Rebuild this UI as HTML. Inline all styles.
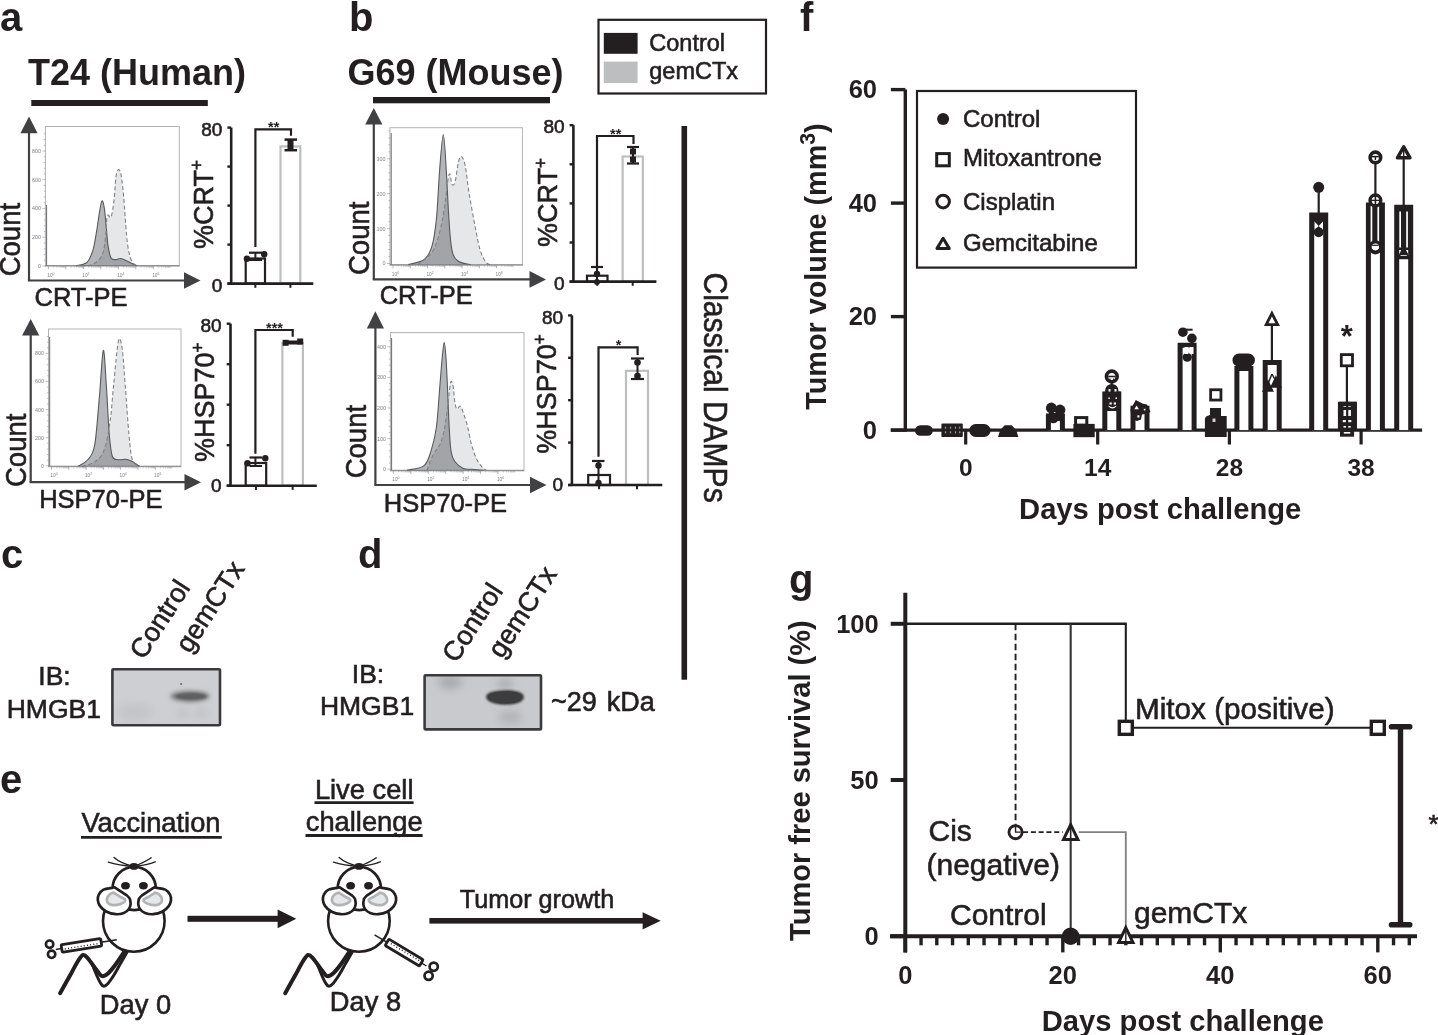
<!DOCTYPE html>
<html><head><meta charset="utf-8"><title>Figure</title>
<style>
html,body{margin:0;padding:0;background:#fff;}
body{width:1438px;height:1035px;overflow:hidden;}
svg{display:block;}
text{font-family:"Liberation Sans",Arial,Helvetica,sans-serif;}
</style></head>
<body>
<svg width="1438" height="1035" viewBox="0 0 1438 1035">
<rect x="0" y="0" width="1438" height="1035" fill="#fff"/>
<text x="0" y="31" font-size="40" font-weight="bold" fill="#231f20">a</text>
<text x="349" y="31" font-size="40" font-weight="bold" fill="#231f20">b</text>
<text x="28" y="85.2" font-size="36" font-weight="bold" fill="#231f20">T24 (Human)</text>
<rect x="31.3" y="100" width="176.5" height="6" fill="#231f20"/>
<text x="347.5" y="84.5" font-size="36" font-weight="bold" fill="#231f20">G69 (Mouse)</text>
<rect x="373" y="97" width="177" height="6.3" fill="#231f20"/>
<rect x="598.5" y="19.8" width="167.5" height="73.7" fill="none" stroke="#231f20" stroke-width="2.2"/>
<rect x="603.8" y="32.9" width="33.8" height="20.9" fill="#231f20"/>
<rect x="603.8" y="61.6" width="33.8" height="21.4" fill="#bcbec0"/>
<text x="649.3" y="51" font-size="23.5" stroke="#231f20" stroke-width="0.6" fill="#231f20">Control</text>
<text x="649.3" y="78.9" font-size="23.5" stroke="#231f20" stroke-width="0.6" fill="#231f20">gemCTx</text>
<rect x="45.4" y="126.5" width="133.9" height="139.7" fill="#fff" stroke="#b1b3b6" stroke-width="1"/>
<path d="M81.2,265.8 C83.1,265.5 89.2,266.1 92.8,264.3 C96.3,262.4 100.2,259.7 102.4,254.6 C104.6,249.4 105.2,239.5 105.9,233.3 C106.6,227.2 106.5,220.9 106.9,217.9 C107.2,214.8 107.5,215.1 108.2,215.0 C108.9,214.8 110.1,219.3 111.1,216.9 C112.1,214.5 113.2,207.1 114.0,200.5 C114.8,193.9 115.3,182.4 115.9,177.3 C116.6,172.2 117.1,170.6 117.9,170.0 C118.7,169.3 119.8,169.0 120.8,173.4 C121.7,177.9 122.7,186.3 123.7,196.6 C124.6,206.9 125.6,225.6 126.6,235.3 C127.5,244.9 128.3,249.9 129.5,254.6 C130.6,259.3 132.0,261.4 133.3,263.3 C134.6,265.2 136.6,265.4 137.2,265.8 L137.2,265.7 L81.2,265.7 Z" fill="#e6e7e8"/>
<path d="M76.3,265.8 C78.1,265.2 84.2,264.8 87.0,262.3 C89.7,259.8 91.1,255.9 92.8,250.7 C94.4,245.6 95.5,237.8 96.6,231.4 C97.7,225.0 98.6,217.2 99.5,212.1 C100.4,207.0 101.2,201.5 102.0,200.9 C102.8,200.2 103.6,203.8 104.3,208.2 C105.1,212.7 105.6,221.1 106.3,227.5 C106.9,234.0 107.4,241.8 108.2,246.9 C109.0,251.9 109.8,255.9 111.1,258.1 C112.4,260.2 114.5,259.5 115.9,259.6 C117.4,259.7 118.5,258.5 119.8,258.5 C121.1,258.4 121.7,258.6 123.7,259.4 C125.6,260.2 129.1,262.2 131.4,263.3 C133.7,264.3 136.2,265.4 137.2,265.8 L137.2,265.7 L76.3,265.7 Z" fill="#b4b5b8" style="mix-blend-mode:multiply"/>
<path d="M76.3,265.8 C78.1,265.2 84.2,264.8 87.0,262.3 C89.7,259.8 91.1,255.9 92.8,250.7 C94.4,245.6 95.5,237.8 96.6,231.4 C97.7,225.0 98.6,217.2 99.5,212.1 C100.4,207.0 101.2,201.5 102.0,200.9 C102.8,200.2 103.6,203.8 104.3,208.2 C105.1,212.7 105.6,221.1 106.3,227.5 C106.9,234.0 107.4,241.8 108.2,246.9 C109.0,251.9 109.8,255.9 111.1,258.1 C112.4,260.2 114.5,259.5 115.9,259.6 C117.4,259.7 118.5,258.5 119.8,258.5 C121.1,258.4 121.7,258.6 123.7,259.4 C125.6,260.2 129.1,262.2 131.4,263.3 C133.7,264.3 136.2,265.4 137.2,265.8" fill="none" stroke="#58595b" stroke-width="1.1"/>
<path d="M81.2,265.8 C83.1,265.5 89.2,266.1 92.8,264.3 C96.3,262.4 100.2,259.7 102.4,254.6 C104.6,249.4 105.2,239.5 105.9,233.3 C106.6,227.2 106.5,220.9 106.9,217.9 C107.2,214.8 107.5,215.1 108.2,215.0 C108.9,214.8 110.1,219.3 111.1,216.9 C112.1,214.5 113.2,207.1 114.0,200.5 C114.8,193.9 115.3,182.4 115.9,177.3 C116.6,172.2 117.1,170.6 117.9,170.0 C118.7,169.3 119.8,169.0 120.8,173.4 C121.7,177.9 122.7,186.3 123.7,196.6 C124.6,206.9 125.6,225.6 126.6,235.3 C127.5,244.9 128.3,249.9 129.5,254.6 C130.6,259.3 132.0,261.4 133.3,263.3 C134.6,265.2 136.6,265.4 137.2,265.8" fill="none" stroke="#808285" stroke-width="1.1" stroke-dasharray="4,2.5"/>
<line x1="46.6" y1="265.59999999999997" x2="46.6" y2="205" stroke="#58595b" stroke-width="0.9"/>
<line x1="45.4" y1="265.59999999999997" x2="179.3" y2="265.59999999999997" stroke="#6d6e71" stroke-width="0.8"/>
<line x1="42.4" y1="266.0" x2="45.4" y2="266.0" stroke="#808285" stroke-width="0.5"/>
<line x1="43.8" y1="260.25" x2="45.4" y2="260.25" stroke="#808285" stroke-width="0.5"/>
<line x1="43.8" y1="254.5" x2="45.4" y2="254.5" stroke="#808285" stroke-width="0.5"/>
<line x1="43.8" y1="248.75" x2="45.4" y2="248.75" stroke="#808285" stroke-width="0.5"/>
<line x1="43.8" y1="243.0" x2="45.4" y2="243.0" stroke="#808285" stroke-width="0.5"/>
<line x1="42.4" y1="237.25" x2="45.4" y2="237.25" stroke="#808285" stroke-width="0.5"/>
<line x1="43.8" y1="231.5" x2="45.4" y2="231.5" stroke="#808285" stroke-width="0.5"/>
<line x1="43.8" y1="225.75" x2="45.4" y2="225.75" stroke="#808285" stroke-width="0.5"/>
<line x1="43.8" y1="220.0" x2="45.4" y2="220.0" stroke="#808285" stroke-width="0.5"/>
<line x1="43.8" y1="214.25" x2="45.4" y2="214.25" stroke="#808285" stroke-width="0.5"/>
<line x1="42.4" y1="208.5" x2="45.4" y2="208.5" stroke="#808285" stroke-width="0.5"/>
<line x1="43.8" y1="202.75" x2="45.4" y2="202.75" stroke="#808285" stroke-width="0.5"/>
<line x1="43.8" y1="197.0" x2="45.4" y2="197.0" stroke="#808285" stroke-width="0.5"/>
<line x1="43.8" y1="191.25" x2="45.4" y2="191.25" stroke="#808285" stroke-width="0.5"/>
<line x1="43.8" y1="185.5" x2="45.4" y2="185.5" stroke="#808285" stroke-width="0.5"/>
<line x1="42.4" y1="179.75" x2="45.4" y2="179.75" stroke="#808285" stroke-width="0.5"/>
<line x1="43.8" y1="174.0" x2="45.4" y2="174.0" stroke="#808285" stroke-width="0.5"/>
<line x1="43.8" y1="168.25" x2="45.4" y2="168.25" stroke="#808285" stroke-width="0.5"/>
<line x1="43.8" y1="162.5" x2="45.4" y2="162.5" stroke="#808285" stroke-width="0.5"/>
<line x1="43.8" y1="156.75" x2="45.4" y2="156.75" stroke="#808285" stroke-width="0.5"/>
<line x1="42.4" y1="151.0" x2="45.4" y2="151.0" stroke="#808285" stroke-width="0.5"/>
<line x1="43.8" y1="145.25" x2="45.4" y2="145.25" stroke="#808285" stroke-width="0.5"/>
<line x1="43.8" y1="139.5" x2="45.4" y2="139.5" stroke="#808285" stroke-width="0.5"/>
<line x1="43.8" y1="133.75" x2="45.4" y2="133.75" stroke="#808285" stroke-width="0.5"/>
<text x="40.9" y="267.9" font-size="5.4" text-anchor="end" fill="#808285">0</text>
<text x="40.9" y="239.15" font-size="5.4" text-anchor="end" fill="#808285">200</text>
<text x="40.9" y="210.4" font-size="5.4" text-anchor="end" fill="#808285">400</text>
<text x="40.9" y="181.65" font-size="5.4" text-anchor="end" fill="#808285">600</text>
<text x="40.9" y="152.9" font-size="5.4" text-anchor="end" fill="#808285">800</text>
<line x1="48.4" y1="266.2" x2="48.4" y2="269.2" stroke="#808285" stroke-width="0.6"/>
<line x1="53.66384395195767" y1="266.2" x2="53.66384395195767" y2="267.8" stroke="#808285" stroke-width="0.4"/>
<line x1="56.74299527350076" y1="266.2" x2="56.74299527350076" y2="267.8" stroke="#808285" stroke-width="0.4"/>
<line x1="58.92768790391534" y1="266.2" x2="58.92768790391534" y2="267.8" stroke="#808285" stroke-width="0.4"/>
<line x1="60.62226715915344" y1="266.2" x2="60.62226715915344" y2="267.8" stroke="#808285" stroke-width="0.4"/>
<line x1="62.006839225458435" y1="266.2" x2="62.006839225458435" y2="267.8" stroke="#808285" stroke-width="0.4"/>
<line x1="63.17747822747152" y1="266.2" x2="63.17747822747152" y2="267.8" stroke="#808285" stroke-width="0.4"/>
<line x1="64.19153185587301" y1="266.2" x2="64.19153185587301" y2="267.8" stroke="#808285" stroke-width="0.4"/>
<line x1="65.08599054700153" y1="266.2" x2="65.08599054700153" y2="267.8" stroke="#808285" stroke-width="0.4"/>
<line x1="65.8861111111111" y1="266.2" x2="65.8861111111111" y2="269.2" stroke="#808285" stroke-width="0.6"/>
<line x1="71.14995506306877" y1="266.2" x2="71.14995506306877" y2="267.8" stroke="#808285" stroke-width="0.4"/>
<line x1="74.22910638461187" y1="266.2" x2="74.22910638461187" y2="267.8" stroke="#808285" stroke-width="0.4"/>
<line x1="76.41379901502646" y1="266.2" x2="76.41379901502646" y2="267.8" stroke="#808285" stroke-width="0.4"/>
<line x1="78.10837827026455" y1="266.2" x2="78.10837827026455" y2="267.8" stroke="#808285" stroke-width="0.4"/>
<line x1="79.49295033656954" y1="266.2" x2="79.49295033656954" y2="267.8" stroke="#808285" stroke-width="0.4"/>
<line x1="80.66358933858263" y1="266.2" x2="80.66358933858263" y2="267.8" stroke="#808285" stroke-width="0.4"/>
<line x1="81.67764296698412" y1="266.2" x2="81.67764296698412" y2="267.8" stroke="#808285" stroke-width="0.4"/>
<line x1="82.57210165811263" y1="266.2" x2="82.57210165811263" y2="267.8" stroke="#808285" stroke-width="0.4"/>
<line x1="83.37222222222222" y1="266.2" x2="83.37222222222222" y2="269.2" stroke="#808285" stroke-width="0.6"/>
<line x1="88.63606617417989" y1="266.2" x2="88.63606617417989" y2="267.8" stroke="#808285" stroke-width="0.4"/>
<line x1="91.71521749572298" y1="266.2" x2="91.71521749572298" y2="267.8" stroke="#808285" stroke-width="0.4"/>
<line x1="93.89991012613757" y1="266.2" x2="93.89991012613757" y2="267.8" stroke="#808285" stroke-width="0.4"/>
<line x1="95.59448938137567" y1="266.2" x2="95.59448938137567" y2="267.8" stroke="#808285" stroke-width="0.4"/>
<line x1="96.97906144768065" y1="266.2" x2="96.97906144768065" y2="267.8" stroke="#808285" stroke-width="0.4"/>
<line x1="98.14970044969374" y1="266.2" x2="98.14970044969374" y2="267.8" stroke="#808285" stroke-width="0.4"/>
<line x1="99.16375407809524" y1="266.2" x2="99.16375407809524" y2="267.8" stroke="#808285" stroke-width="0.4"/>
<line x1="100.05821276922374" y1="266.2" x2="100.05821276922374" y2="267.8" stroke="#808285" stroke-width="0.4"/>
<line x1="100.85833333333332" y1="266.2" x2="100.85833333333332" y2="269.2" stroke="#808285" stroke-width="0.6"/>
<line x1="106.12217728529099" y1="266.2" x2="106.12217728529099" y2="267.8" stroke="#808285" stroke-width="0.4"/>
<line x1="109.20132860683408" y1="266.2" x2="109.20132860683408" y2="267.8" stroke="#808285" stroke-width="0.4"/>
<line x1="111.38602123724866" y1="266.2" x2="111.38602123724866" y2="267.8" stroke="#808285" stroke-width="0.4"/>
<line x1="113.08060049248677" y1="266.2" x2="113.08060049248677" y2="267.8" stroke="#808285" stroke-width="0.4"/>
<line x1="114.46517255879175" y1="266.2" x2="114.46517255879175" y2="267.8" stroke="#808285" stroke-width="0.4"/>
<line x1="115.63581156080484" y1="266.2" x2="115.63581156080484" y2="267.8" stroke="#808285" stroke-width="0.4"/>
<line x1="116.64986518920634" y1="266.2" x2="116.64986518920634" y2="267.8" stroke="#808285" stroke-width="0.4"/>
<line x1="117.54432388033484" y1="266.2" x2="117.54432388033484" y2="267.8" stroke="#808285" stroke-width="0.4"/>
<line x1="118.34444444444443" y1="266.2" x2="118.34444444444443" y2="269.2" stroke="#808285" stroke-width="0.6"/>
<line x1="123.6082883964021" y1="266.2" x2="123.6082883964021" y2="267.8" stroke="#808285" stroke-width="0.4"/>
<line x1="126.6874397179452" y1="266.2" x2="126.6874397179452" y2="267.8" stroke="#808285" stroke-width="0.4"/>
<line x1="128.87213234835977" y1="266.2" x2="128.87213234835977" y2="267.8" stroke="#808285" stroke-width="0.4"/>
<line x1="130.56671160359787" y1="266.2" x2="130.56671160359787" y2="267.8" stroke="#808285" stroke-width="0.4"/>
<line x1="131.95128366990286" y1="266.2" x2="131.95128366990286" y2="267.8" stroke="#808285" stroke-width="0.4"/>
<line x1="133.12192267191594" y1="266.2" x2="133.12192267191594" y2="267.8" stroke="#808285" stroke-width="0.4"/>
<line x1="134.13597630031745" y1="266.2" x2="134.13597630031745" y2="267.8" stroke="#808285" stroke-width="0.4"/>
<line x1="135.03043499144596" y1="266.2" x2="135.03043499144596" y2="267.8" stroke="#808285" stroke-width="0.4"/>
<line x1="135.83055555555555" y1="266.2" x2="135.83055555555555" y2="269.2" stroke="#808285" stroke-width="0.6"/>
<line x1="141.09439950751323" y1="266.2" x2="141.09439950751323" y2="267.8" stroke="#808285" stroke-width="0.4"/>
<line x1="144.17355082905632" y1="266.2" x2="144.17355082905632" y2="267.8" stroke="#808285" stroke-width="0.4"/>
<line x1="146.35824345947088" y1="266.2" x2="146.35824345947088" y2="267.8" stroke="#808285" stroke-width="0.4"/>
<line x1="148.05282271470898" y1="266.2" x2="148.05282271470898" y2="267.8" stroke="#808285" stroke-width="0.4"/>
<line x1="149.43739478101398" y1="266.2" x2="149.43739478101398" y2="267.8" stroke="#808285" stroke-width="0.4"/>
<line x1="150.60803378302705" y1="266.2" x2="150.60803378302705" y2="267.8" stroke="#808285" stroke-width="0.4"/>
<line x1="151.62208741142857" y1="266.2" x2="151.62208741142857" y2="267.8" stroke="#808285" stroke-width="0.4"/>
<line x1="152.51654610255707" y1="266.2" x2="152.51654610255707" y2="267.8" stroke="#808285" stroke-width="0.4"/>
<line x1="153.31666666666666" y1="266.2" x2="153.31666666666666" y2="269.2" stroke="#808285" stroke-width="0.6"/>
<line x1="158.58051061862434" y1="266.2" x2="158.58051061862434" y2="267.8" stroke="#808285" stroke-width="0.4"/>
<line x1="161.65966194016744" y1="266.2" x2="161.65966194016744" y2="267.8" stroke="#808285" stroke-width="0.4"/>
<line x1="163.844354570582" y1="266.2" x2="163.844354570582" y2="267.8" stroke="#808285" stroke-width="0.4"/>
<line x1="165.5389338258201" y1="266.2" x2="165.5389338258201" y2="267.8" stroke="#808285" stroke-width="0.4"/>
<line x1="166.9235058921251" y1="266.2" x2="166.9235058921251" y2="267.8" stroke="#808285" stroke-width="0.4"/>
<line x1="168.09414489413817" y1="266.2" x2="168.09414489413817" y2="267.8" stroke="#808285" stroke-width="0.4"/>
<line x1="169.10819852253968" y1="266.2" x2="169.10819852253968" y2="267.8" stroke="#808285" stroke-width="0.4"/>
<line x1="170.0026572136682" y1="266.2" x2="170.0026572136682" y2="267.8" stroke="#808285" stroke-width="0.4"/>
<text x="50.9" y="276.7" font-size="4.8" text-anchor="middle" fill="#808285">10<tspan font-size="3.5" dy="-2">0</tspan></text>
<text x="85.87222222222222" y="276.7" font-size="4.8" text-anchor="middle" fill="#808285">10<tspan font-size="3.5" dy="-2">2</tspan></text>
<text x="120.84444444444443" y="276.7" font-size="4.8" text-anchor="middle" fill="#808285">10<tspan font-size="3.5" dy="-2">4</tspan></text>
<text x="155.81666666666666" y="276.7" font-size="4.8" text-anchor="middle" fill="#808285">10<tspan font-size="3.5" dy="-2">6</tspan></text>
<line x1="29" y1="132.2" x2="29" y2="280.5" stroke="#414042" stroke-width="2.2"/>
<polygon points="29.0,116.4 20.4,133.2 37.6,133.2" fill="#414042"/>
<line x1="27.9" y1="280.5" x2="185.5" y2="280.5" stroke="#414042" stroke-width="2.2"/>
<polygon points="200.5,280.5 184.0,272.2 184.0,288.8" fill="#414042"/>
<text transform="translate(20.3,276.3) rotate(-90) scale(0.917,1)" font-size="30" stroke="#231f20" stroke-width="0.6" fill="#231f20">Count</text>
<text x="34.5" y="305.5" font-size="25.5" stroke="#231f20" stroke-width="0.6" fill="#231f20">CRT-PE</text>
<rect x="48.5" y="329" width="132.5" height="137.8" fill="#fff" stroke="#b1b3b6" stroke-width="1"/>
<path d="M82.0,466.3 C84.1,465.6 90.9,464.7 94.6,462.0 C98.3,459.3 101.4,457.0 104.0,450.3 C106.6,443.6 108.4,432.5 110.0,421.9 C111.6,411.2 112.3,398.2 113.5,386.4 C114.7,374.6 116.0,359.0 117.0,351.0 C118.0,343.0 118.5,338.6 119.4,338.6 C120.3,338.6 121.5,343.0 122.5,351.0 C123.5,359.0 124.2,372.6 125.3,386.4 C126.4,400.2 127.7,421.5 128.9,433.7 C130.1,445.9 130.6,454.3 132.4,459.7 C134.2,465.1 138.3,465.2 139.5,466.3 L139.5,466.3 L82.0,466.3 Z" fill="#e6e7e8"/>
<path d="M78.0,466.3 C79.6,465.2 84.7,463.5 87.5,460.0 C90.3,456.5 92.6,455.8 94.6,445.5 C96.6,435.2 97.8,413.8 99.3,398.0 C100.8,382.2 102.1,352.4 103.3,350.5 C104.5,348.6 105.4,372.5 106.4,386.4 C107.4,400.3 108.2,422.1 109.2,433.7 C110.2,445.3 110.8,451.9 112.3,456.2 C113.8,460.5 116.0,459.2 118.2,459.7 C120.4,460.2 123.1,459.0 125.3,459.2 C127.5,459.4 128.8,459.8 131.2,461.0 C133.6,462.2 138.1,465.4 139.5,466.3 L139.5,466.3 L78.0,466.3 Z" fill="#b4b5b8" style="mix-blend-mode:multiply"/>
<path d="M78.0,466.3 C79.6,465.2 84.7,463.5 87.5,460.0 C90.3,456.5 92.6,455.8 94.6,445.5 C96.6,435.2 97.8,413.8 99.3,398.0 C100.8,382.2 102.1,352.4 103.3,350.5 C104.5,348.6 105.4,372.5 106.4,386.4 C107.4,400.3 108.2,422.1 109.2,433.7 C110.2,445.3 110.8,451.9 112.3,456.2 C113.8,460.5 116.0,459.2 118.2,459.7 C120.4,460.2 123.1,459.0 125.3,459.2 C127.5,459.4 128.8,459.8 131.2,461.0 C133.6,462.2 138.1,465.4 139.5,466.3" fill="none" stroke="#58595b" stroke-width="1.1"/>
<path d="M82.0,466.3 C84.1,465.6 90.9,464.7 94.6,462.0 C98.3,459.3 101.4,457.0 104.0,450.3 C106.6,443.6 108.4,432.5 110.0,421.9 C111.6,411.2 112.3,398.2 113.5,386.4 C114.7,374.6 116.0,359.0 117.0,351.0 C118.0,343.0 118.5,338.6 119.4,338.6 C120.3,338.6 121.5,343.0 122.5,351.0 C123.5,359.0 124.2,372.6 125.3,386.4 C126.4,400.2 127.7,421.5 128.9,433.7 C130.1,445.9 130.6,454.3 132.4,459.7 C134.2,465.1 138.3,465.2 139.5,466.3" fill="none" stroke="#808285" stroke-width="1.1" stroke-dasharray="4,2.5"/>
<line x1="49.7" y1="466.2" x2="49.7" y2="337" stroke="#58595b" stroke-width="0.9"/>
<line x1="48.5" y1="466.2" x2="181" y2="466.2" stroke="#6d6e71" stroke-width="0.8"/>
<line x1="45.5" y1="465.8" x2="48.5" y2="465.8" stroke="#808285" stroke-width="0.5"/>
<line x1="46.9" y1="460.18" x2="48.5" y2="460.18" stroke="#808285" stroke-width="0.5"/>
<line x1="46.9" y1="454.56" x2="48.5" y2="454.56" stroke="#808285" stroke-width="0.5"/>
<line x1="46.9" y1="448.94" x2="48.5" y2="448.94" stroke="#808285" stroke-width="0.5"/>
<line x1="46.9" y1="443.32" x2="48.5" y2="443.32" stroke="#808285" stroke-width="0.5"/>
<line x1="45.5" y1="437.7" x2="48.5" y2="437.7" stroke="#808285" stroke-width="0.5"/>
<line x1="46.9" y1="432.08" x2="48.5" y2="432.08" stroke="#808285" stroke-width="0.5"/>
<line x1="46.9" y1="426.46000000000004" x2="48.5" y2="426.46000000000004" stroke="#808285" stroke-width="0.5"/>
<line x1="46.9" y1="420.84000000000003" x2="48.5" y2="420.84000000000003" stroke="#808285" stroke-width="0.5"/>
<line x1="46.9" y1="415.22" x2="48.5" y2="415.22" stroke="#808285" stroke-width="0.5"/>
<line x1="45.5" y1="409.6" x2="48.5" y2="409.6" stroke="#808285" stroke-width="0.5"/>
<line x1="46.9" y1="403.98" x2="48.5" y2="403.98" stroke="#808285" stroke-width="0.5"/>
<line x1="46.9" y1="398.36" x2="48.5" y2="398.36" stroke="#808285" stroke-width="0.5"/>
<line x1="46.9" y1="392.74" x2="48.5" y2="392.74" stroke="#808285" stroke-width="0.5"/>
<line x1="46.9" y1="387.12" x2="48.5" y2="387.12" stroke="#808285" stroke-width="0.5"/>
<line x1="45.5" y1="381.5" x2="48.5" y2="381.5" stroke="#808285" stroke-width="0.5"/>
<line x1="46.9" y1="375.88" x2="48.5" y2="375.88" stroke="#808285" stroke-width="0.5"/>
<line x1="46.9" y1="370.26" x2="48.5" y2="370.26" stroke="#808285" stroke-width="0.5"/>
<line x1="46.9" y1="364.64" x2="48.5" y2="364.64" stroke="#808285" stroke-width="0.5"/>
<line x1="46.9" y1="359.02" x2="48.5" y2="359.02" stroke="#808285" stroke-width="0.5"/>
<line x1="45.5" y1="353.4" x2="48.5" y2="353.4" stroke="#808285" stroke-width="0.5"/>
<line x1="46.9" y1="347.78" x2="48.5" y2="347.78" stroke="#808285" stroke-width="0.5"/>
<line x1="46.9" y1="342.15999999999997" x2="48.5" y2="342.15999999999997" stroke="#808285" stroke-width="0.5"/>
<line x1="46.9" y1="336.53999999999996" x2="48.5" y2="336.53999999999996" stroke="#808285" stroke-width="0.5"/>
<text x="44.0" y="467.7" font-size="5.4" text-anchor="end" fill="#808285">0</text>
<text x="44.0" y="439.59999999999997" font-size="5.4" text-anchor="end" fill="#808285">200</text>
<text x="44.0" y="411.5" font-size="5.4" text-anchor="end" fill="#808285">400</text>
<text x="44.0" y="383.4" font-size="5.4" text-anchor="end" fill="#808285">600</text>
<text x="44.0" y="355.29999999999995" font-size="5.4" text-anchor="end" fill="#808285">800</text>
<line x1="51.5" y1="466.8" x2="51.5" y2="469.8" stroke="#808285" stroke-width="0.6"/>
<line x1="56.705310341689675" y1="466.8" x2="56.705310341689675" y2="468.40000000000003" stroke="#808285" stroke-width="0.4"/>
<line x1="59.75022169619416" y1="466.8" x2="59.75022169619416" y2="468.40000000000003" stroke="#808285" stroke-width="0.4"/>
<line x1="61.91062068337935" y1="466.8" x2="61.91062068337935" y2="468.40000000000003" stroke="#808285" stroke-width="0.4"/>
<line x1="63.58635632497699" y1="466.8" x2="63.58635632497699" y2="468.40000000000003" stroke="#808285" stroke-width="0.4"/>
<line x1="64.95553203788384" y1="466.8" x2="64.95553203788384" y2="468.40000000000003" stroke="#808285" stroke-width="0.4"/>
<line x1="66.11315360857986" y1="466.8" x2="66.11315360857986" y2="468.40000000000003" stroke="#808285" stroke-width="0.4"/>
<line x1="67.11593102506902" y1="466.8" x2="67.11593102506902" y2="468.40000000000003" stroke="#808285" stroke-width="0.4"/>
<line x1="68.00044339238832" y1="466.8" x2="68.00044339238832" y2="468.40000000000003" stroke="#808285" stroke-width="0.4"/>
<line x1="68.79166666666667" y1="466.8" x2="68.79166666666667" y2="469.8" stroke="#808285" stroke-width="0.6"/>
<line x1="73.99697700835635" y1="466.8" x2="73.99697700835635" y2="468.40000000000003" stroke="#808285" stroke-width="0.4"/>
<line x1="77.04188836286083" y1="466.8" x2="77.04188836286083" y2="468.40000000000003" stroke="#808285" stroke-width="0.4"/>
<line x1="79.20228735004602" y1="466.8" x2="79.20228735004602" y2="468.40000000000003" stroke="#808285" stroke-width="0.4"/>
<line x1="80.87802299164366" y1="466.8" x2="80.87802299164366" y2="468.40000000000003" stroke="#808285" stroke-width="0.4"/>
<line x1="82.24719870455051" y1="466.8" x2="82.24719870455051" y2="468.40000000000003" stroke="#808285" stroke-width="0.4"/>
<line x1="83.40482027524654" y1="466.8" x2="83.40482027524654" y2="468.40000000000003" stroke="#808285" stroke-width="0.4"/>
<line x1="84.4075976917357" y1="466.8" x2="84.4075976917357" y2="468.40000000000003" stroke="#808285" stroke-width="0.4"/>
<line x1="85.292110059055" y1="466.8" x2="85.292110059055" y2="468.40000000000003" stroke="#808285" stroke-width="0.4"/>
<line x1="86.08333333333334" y1="466.8" x2="86.08333333333334" y2="469.8" stroke="#808285" stroke-width="0.6"/>
<line x1="91.28864367502302" y1="466.8" x2="91.28864367502302" y2="468.40000000000003" stroke="#808285" stroke-width="0.4"/>
<line x1="94.3335550295275" y1="466.8" x2="94.3335550295275" y2="468.40000000000003" stroke="#808285" stroke-width="0.4"/>
<line x1="96.49395401671269" y1="466.8" x2="96.49395401671269" y2="468.40000000000003" stroke="#808285" stroke-width="0.4"/>
<line x1="98.16968965831033" y1="466.8" x2="98.16968965831033" y2="468.40000000000003" stroke="#808285" stroke-width="0.4"/>
<line x1="99.53886537121718" y1="466.8" x2="99.53886537121718" y2="468.40000000000003" stroke="#808285" stroke-width="0.4"/>
<line x1="100.69648694191321" y1="466.8" x2="100.69648694191321" y2="468.40000000000003" stroke="#808285" stroke-width="0.4"/>
<line x1="101.69926435840236" y1="466.8" x2="101.69926435840236" y2="468.40000000000003" stroke="#808285" stroke-width="0.4"/>
<line x1="102.58377672572166" y1="466.8" x2="102.58377672572166" y2="468.40000000000003" stroke="#808285" stroke-width="0.4"/>
<line x1="103.375" y1="466.8" x2="103.375" y2="469.8" stroke="#808285" stroke-width="0.6"/>
<line x1="108.58031034168968" y1="466.8" x2="108.58031034168968" y2="468.40000000000003" stroke="#808285" stroke-width="0.4"/>
<line x1="111.62522169619416" y1="466.8" x2="111.62522169619416" y2="468.40000000000003" stroke="#808285" stroke-width="0.4"/>
<line x1="113.78562068337935" y1="466.8" x2="113.78562068337935" y2="468.40000000000003" stroke="#808285" stroke-width="0.4"/>
<line x1="115.46135632497699" y1="466.8" x2="115.46135632497699" y2="468.40000000000003" stroke="#808285" stroke-width="0.4"/>
<line x1="116.83053203788384" y1="466.8" x2="116.83053203788384" y2="468.40000000000003" stroke="#808285" stroke-width="0.4"/>
<line x1="117.98815360857986" y1="466.8" x2="117.98815360857986" y2="468.40000000000003" stroke="#808285" stroke-width="0.4"/>
<line x1="118.99093102506902" y1="466.8" x2="118.99093102506902" y2="468.40000000000003" stroke="#808285" stroke-width="0.4"/>
<line x1="119.87544339238832" y1="466.8" x2="119.87544339238832" y2="468.40000000000003" stroke="#808285" stroke-width="0.4"/>
<line x1="120.66666666666667" y1="466.8" x2="120.66666666666667" y2="469.8" stroke="#808285" stroke-width="0.6"/>
<line x1="125.87197700835635" y1="466.8" x2="125.87197700835635" y2="468.40000000000003" stroke="#808285" stroke-width="0.4"/>
<line x1="128.91688836286085" y1="466.8" x2="128.91688836286085" y2="468.40000000000003" stroke="#808285" stroke-width="0.4"/>
<line x1="131.07728735004602" y1="466.8" x2="131.07728735004602" y2="468.40000000000003" stroke="#808285" stroke-width="0.4"/>
<line x1="132.75302299164366" y1="466.8" x2="132.75302299164366" y2="468.40000000000003" stroke="#808285" stroke-width="0.4"/>
<line x1="134.1221987045505" y1="466.8" x2="134.1221987045505" y2="468.40000000000003" stroke="#808285" stroke-width="0.4"/>
<line x1="135.27982027524652" y1="466.8" x2="135.27982027524652" y2="468.40000000000003" stroke="#808285" stroke-width="0.4"/>
<line x1="136.2825976917357" y1="466.8" x2="136.2825976917357" y2="468.40000000000003" stroke="#808285" stroke-width="0.4"/>
<line x1="137.167110059055" y1="466.8" x2="137.167110059055" y2="468.40000000000003" stroke="#808285" stroke-width="0.4"/>
<line x1="137.95833333333334" y1="466.8" x2="137.95833333333334" y2="469.8" stroke="#808285" stroke-width="0.6"/>
<line x1="143.16364367502302" y1="466.8" x2="143.16364367502302" y2="468.40000000000003" stroke="#808285" stroke-width="0.4"/>
<line x1="146.2085550295275" y1="466.8" x2="146.2085550295275" y2="468.40000000000003" stroke="#808285" stroke-width="0.4"/>
<line x1="148.3689540167127" y1="466.8" x2="148.3689540167127" y2="468.40000000000003" stroke="#808285" stroke-width="0.4"/>
<line x1="150.04468965831035" y1="466.8" x2="150.04468965831035" y2="468.40000000000003" stroke="#808285" stroke-width="0.4"/>
<line x1="151.41386537121718" y1="466.8" x2="151.41386537121718" y2="468.40000000000003" stroke="#808285" stroke-width="0.4"/>
<line x1="152.5714869419132" y1="466.8" x2="152.5714869419132" y2="468.40000000000003" stroke="#808285" stroke-width="0.4"/>
<line x1="153.57426435840236" y1="466.8" x2="153.57426435840236" y2="468.40000000000003" stroke="#808285" stroke-width="0.4"/>
<line x1="154.45877672572166" y1="466.8" x2="154.45877672572166" y2="468.40000000000003" stroke="#808285" stroke-width="0.4"/>
<line x1="155.25" y1="466.8" x2="155.25" y2="469.8" stroke="#808285" stroke-width="0.6"/>
<line x1="160.45531034168968" y1="466.8" x2="160.45531034168968" y2="468.40000000000003" stroke="#808285" stroke-width="0.4"/>
<line x1="163.50022169619416" y1="466.8" x2="163.50022169619416" y2="468.40000000000003" stroke="#808285" stroke-width="0.4"/>
<line x1="165.66062068337936" y1="466.8" x2="165.66062068337936" y2="468.40000000000003" stroke="#808285" stroke-width="0.4"/>
<line x1="167.336356324977" y1="466.8" x2="167.336356324977" y2="468.40000000000003" stroke="#808285" stroke-width="0.4"/>
<line x1="168.70553203788384" y1="466.8" x2="168.70553203788384" y2="468.40000000000003" stroke="#808285" stroke-width="0.4"/>
<line x1="169.86315360857986" y1="466.8" x2="169.86315360857986" y2="468.40000000000003" stroke="#808285" stroke-width="0.4"/>
<line x1="170.86593102506902" y1="466.8" x2="170.86593102506902" y2="468.40000000000003" stroke="#808285" stroke-width="0.4"/>
<line x1="171.75044339238832" y1="466.8" x2="171.75044339238832" y2="468.40000000000003" stroke="#808285" stroke-width="0.4"/>
<text x="54.0" y="477.3" font-size="4.8" text-anchor="middle" fill="#808285">10<tspan font-size="3.5" dy="-2">0</tspan></text>
<text x="88.58333333333334" y="477.3" font-size="4.8" text-anchor="middle" fill="#808285">10<tspan font-size="3.5" dy="-2">2</tspan></text>
<text x="123.16666666666667" y="477.3" font-size="4.8" text-anchor="middle" fill="#808285">10<tspan font-size="3.5" dy="-2">4</tspan></text>
<text x="157.75" y="477.3" font-size="4.8" text-anchor="middle" fill="#808285">10<tspan font-size="3.5" dy="-2">6</tspan></text>
<line x1="30.7" y1="334.6" x2="30.7" y2="482.2" stroke="#414042" stroke-width="2.2"/>
<polygon points="30.7,319.0 22.1,335.6 39.3,335.6" fill="#414042"/>
<line x1="29.599999999999998" y1="482.2" x2="186" y2="482.2" stroke="#414042" stroke-width="2.2"/>
<polygon points="201.0,482.2 184.5,473.9 184.5,490.5" fill="#414042"/>
<text transform="translate(26.2,487) rotate(-90) scale(0.917,1)" font-size="30" stroke="#231f20" stroke-width="0.6" fill="#231f20">Count</text>
<text x="39.2" y="508.2" font-size="25.5" stroke="#231f20" stroke-width="0.6" fill="#231f20">HSP70-PE</text>
<rect x="390" y="127.7" width="132.39999999999998" height="137.60000000000002" fill="#fff" stroke="#b1b3b6" stroke-width="1"/>
<path d="M417.6,264.6 C420.2,262.2 429.1,257.9 433.3,250.3 C437.5,242.7 440.0,231.5 442.6,219.0 C445.2,206.5 447.3,180.9 448.9,175.2 C450.5,169.5 450.9,183.5 452.0,184.6 C453.1,185.7 454.1,185.2 455.2,181.5 C456.2,177.8 457.3,166.9 458.3,162.7 C459.3,158.5 460.2,155.9 461.4,156.4 C462.5,156.9 463.9,159.5 465.2,165.8 C466.5,172.1 467.5,183.6 469.2,194.0 C470.9,204.4 473.7,219.0 475.5,228.4 C477.3,237.8 478.4,244.6 480.2,250.3 C482.0,256.0 484.3,260.4 486.4,262.8 C488.5,265.2 491.6,264.3 492.7,264.6 L492.7,264.8 L417.6,264.8 Z" fill="#e6e7e8"/>
<path d="M408.2,264.6 C410.8,263.8 420.0,262.6 423.9,259.7 C427.8,256.8 429.6,254.0 431.7,247.2 C433.8,240.4 435.1,231.5 436.4,219.0 C437.7,206.5 438.4,186.1 439.5,172.0 C440.6,157.9 442.2,134.5 443.3,134.5 C444.4,134.5 445.5,157.9 446.4,172.0 C447.3,186.1 448.0,205.9 448.9,219.0 C449.8,232.1 450.4,243.2 452.0,250.3 C453.6,257.4 455.2,258.9 458.3,261.3 C461.4,263.7 468.7,264.1 470.8,264.6 L470.8,264.8 L408.2,264.8 Z" fill="#b4b5b8" style="mix-blend-mode:multiply"/>
<path d="M408.2,264.6 C410.8,263.8 420.0,262.6 423.9,259.7 C427.8,256.8 429.6,254.0 431.7,247.2 C433.8,240.4 435.1,231.5 436.4,219.0 C437.7,206.5 438.4,186.1 439.5,172.0 C440.6,157.9 442.2,134.5 443.3,134.5 C444.4,134.5 445.5,157.9 446.4,172.0 C447.3,186.1 448.0,205.9 448.9,219.0 C449.8,232.1 450.4,243.2 452.0,250.3 C453.6,257.4 455.2,258.9 458.3,261.3 C461.4,263.7 468.7,264.1 470.8,264.6" fill="none" stroke="#58595b" stroke-width="1.1"/>
<path d="M417.6,264.6 C420.2,262.2 429.1,257.9 433.3,250.3 C437.5,242.7 440.0,231.5 442.6,219.0 C445.2,206.5 447.3,180.9 448.9,175.2 C450.5,169.5 450.9,183.5 452.0,184.6 C453.1,185.7 454.1,185.2 455.2,181.5 C456.2,177.8 457.3,166.9 458.3,162.7 C459.3,158.5 460.2,155.9 461.4,156.4 C462.5,156.9 463.9,159.5 465.2,165.8 C466.5,172.1 467.5,183.6 469.2,194.0 C470.9,204.4 473.7,219.0 475.5,228.4 C477.3,237.8 478.4,244.6 480.2,250.3 C482.0,256.0 484.3,260.4 486.4,262.8 C488.5,265.2 491.6,264.3 492.7,264.6" fill="none" stroke="#808285" stroke-width="1.1" stroke-dasharray="4,2.5"/>
<line x1="391.2" y1="264.7" x2="391.2" y2="133" stroke="#58595b" stroke-width="0.9"/>
<line x1="390" y1="264.7" x2="522.4" y2="264.7" stroke="#6d6e71" stroke-width="0.8"/>
<line x1="387" y1="263.5" x2="390" y2="263.5" stroke="#808285" stroke-width="0.5"/>
<line x1="388.4" y1="256.52" x2="390" y2="256.52" stroke="#808285" stroke-width="0.5"/>
<line x1="388.4" y1="249.54" x2="390" y2="249.54" stroke="#808285" stroke-width="0.5"/>
<line x1="388.4" y1="242.56" x2="390" y2="242.56" stroke="#808285" stroke-width="0.5"/>
<line x1="388.4" y1="235.58" x2="390" y2="235.58" stroke="#808285" stroke-width="0.5"/>
<line x1="387" y1="228.6" x2="390" y2="228.6" stroke="#808285" stroke-width="0.5"/>
<line x1="388.4" y1="221.62" x2="390" y2="221.62" stroke="#808285" stroke-width="0.5"/>
<line x1="388.4" y1="214.64" x2="390" y2="214.64" stroke="#808285" stroke-width="0.5"/>
<line x1="388.4" y1="207.66" x2="390" y2="207.66" stroke="#808285" stroke-width="0.5"/>
<line x1="388.4" y1="200.68" x2="390" y2="200.68" stroke="#808285" stroke-width="0.5"/>
<line x1="387" y1="193.7" x2="390" y2="193.7" stroke="#808285" stroke-width="0.5"/>
<line x1="388.4" y1="186.72" x2="390" y2="186.72" stroke="#808285" stroke-width="0.5"/>
<line x1="388.4" y1="179.74" x2="390" y2="179.74" stroke="#808285" stroke-width="0.5"/>
<line x1="388.4" y1="172.76" x2="390" y2="172.76" stroke="#808285" stroke-width="0.5"/>
<line x1="388.4" y1="165.78" x2="390" y2="165.78" stroke="#808285" stroke-width="0.5"/>
<line x1="387" y1="158.8" x2="390" y2="158.8" stroke="#808285" stroke-width="0.5"/>
<line x1="388.4" y1="151.82" x2="390" y2="151.82" stroke="#808285" stroke-width="0.5"/>
<line x1="388.4" y1="144.84" x2="390" y2="144.84" stroke="#808285" stroke-width="0.5"/>
<line x1="388.4" y1="137.86" x2="390" y2="137.86" stroke="#808285" stroke-width="0.5"/>
<line x1="388.4" y1="130.88" x2="390" y2="130.88" stroke="#808285" stroke-width="0.5"/>
<text x="385.5" y="265.4" font-size="5.4" text-anchor="end" fill="#808285">0</text>
<text x="385.5" y="230.5" font-size="5.4" text-anchor="end" fill="#808285">100</text>
<text x="385.5" y="195.6" font-size="5.4" text-anchor="end" fill="#808285">200</text>
<text x="385.5" y="160.70000000000002" font-size="5.4" text-anchor="end" fill="#808285">300</text>
<line x1="393.0" y1="265.3" x2="393.0" y2="268.3" stroke="#808285" stroke-width="0.6"/>
<line x1="398.2011293695277" y1="265.3" x2="398.2011293695277" y2="266.90000000000003" stroke="#808285" stroke-width="0.4"/>
<line x1="401.24359501210085" y1="265.3" x2="401.24359501210085" y2="266.90000000000003" stroke="#808285" stroke-width="0.4"/>
<line x1="403.40225873905536" y1="265.3" x2="403.40225873905536" y2="266.90000000000003" stroke="#808285" stroke-width="0.4"/>
<line x1="405.0766484082501" y1="265.3" x2="405.0766484082501" y2="266.90000000000003" stroke="#808285" stroke-width="0.4"/>
<line x1="406.44472438162853" y1="265.3" x2="406.44472438162853" y2="266.90000000000003" stroke="#808285" stroke-width="0.4"/>
<line x1="407.60141613580186" y1="265.3" x2="407.60141613580186" y2="266.90000000000003" stroke="#808285" stroke-width="0.4"/>
<line x1="408.60338810858303" y1="265.3" x2="408.60338810858303" y2="266.90000000000003" stroke="#808285" stroke-width="0.4"/>
<line x1="409.48719002420165" y1="265.3" x2="409.48719002420165" y2="266.90000000000003" stroke="#808285" stroke-width="0.4"/>
<line x1="410.27777777777777" y1="265.3" x2="410.27777777777777" y2="268.3" stroke="#808285" stroke-width="0.6"/>
<line x1="415.47890714730545" y1="265.3" x2="415.47890714730545" y2="266.90000000000003" stroke="#808285" stroke-width="0.4"/>
<line x1="418.5213727898786" y1="265.3" x2="418.5213727898786" y2="266.90000000000003" stroke="#808285" stroke-width="0.4"/>
<line x1="420.6800365168331" y1="265.3" x2="420.6800365168331" y2="266.90000000000003" stroke="#808285" stroke-width="0.4"/>
<line x1="422.35442618602787" y1="265.3" x2="422.35442618602787" y2="266.90000000000003" stroke="#808285" stroke-width="0.4"/>
<line x1="423.7225021594063" y1="265.3" x2="423.7225021594063" y2="266.90000000000003" stroke="#808285" stroke-width="0.4"/>
<line x1="424.8791939135796" y1="265.3" x2="424.8791939135796" y2="266.90000000000003" stroke="#808285" stroke-width="0.4"/>
<line x1="425.8811658863608" y1="265.3" x2="425.8811658863608" y2="266.90000000000003" stroke="#808285" stroke-width="0.4"/>
<line x1="426.7649678019794" y1="265.3" x2="426.7649678019794" y2="266.90000000000003" stroke="#808285" stroke-width="0.4"/>
<line x1="427.55555555555554" y1="265.3" x2="427.55555555555554" y2="268.3" stroke="#808285" stroke-width="0.6"/>
<line x1="432.7566849250832" y1="265.3" x2="432.7566849250832" y2="266.90000000000003" stroke="#808285" stroke-width="0.4"/>
<line x1="435.7991505676564" y1="265.3" x2="435.7991505676564" y2="266.90000000000003" stroke="#808285" stroke-width="0.4"/>
<line x1="437.9578142946109" y1="265.3" x2="437.9578142946109" y2="266.90000000000003" stroke="#808285" stroke-width="0.4"/>
<line x1="439.63220396380564" y1="265.3" x2="439.63220396380564" y2="266.90000000000003" stroke="#808285" stroke-width="0.4"/>
<line x1="441.0002799371841" y1="265.3" x2="441.0002799371841" y2="266.90000000000003" stroke="#808285" stroke-width="0.4"/>
<line x1="442.1569716913574" y1="265.3" x2="442.1569716913574" y2="266.90000000000003" stroke="#808285" stroke-width="0.4"/>
<line x1="443.1589436641386" y1="265.3" x2="443.1589436641386" y2="266.90000000000003" stroke="#808285" stroke-width="0.4"/>
<line x1="444.0427455797572" y1="265.3" x2="444.0427455797572" y2="266.90000000000003" stroke="#808285" stroke-width="0.4"/>
<line x1="444.8333333333333" y1="265.3" x2="444.8333333333333" y2="268.3" stroke="#808285" stroke-width="0.6"/>
<line x1="450.034462702861" y1="265.3" x2="450.034462702861" y2="266.90000000000003" stroke="#808285" stroke-width="0.4"/>
<line x1="453.07692834543417" y1="265.3" x2="453.07692834543417" y2="266.90000000000003" stroke="#808285" stroke-width="0.4"/>
<line x1="455.23559207238867" y1="265.3" x2="455.23559207238867" y2="266.90000000000003" stroke="#808285" stroke-width="0.4"/>
<line x1="456.9099817415834" y1="265.3" x2="456.9099817415834" y2="266.90000000000003" stroke="#808285" stroke-width="0.4"/>
<line x1="458.27805771496185" y1="265.3" x2="458.27805771496185" y2="266.90000000000003" stroke="#808285" stroke-width="0.4"/>
<line x1="459.43474946913517" y1="265.3" x2="459.43474946913517" y2="266.90000000000003" stroke="#808285" stroke-width="0.4"/>
<line x1="460.43672144191635" y1="265.3" x2="460.43672144191635" y2="266.90000000000003" stroke="#808285" stroke-width="0.4"/>
<line x1="461.32052335753497" y1="265.3" x2="461.32052335753497" y2="266.90000000000003" stroke="#808285" stroke-width="0.4"/>
<line x1="462.1111111111111" y1="265.3" x2="462.1111111111111" y2="268.3" stroke="#808285" stroke-width="0.6"/>
<line x1="467.31224048063876" y1="265.3" x2="467.31224048063876" y2="266.90000000000003" stroke="#808285" stroke-width="0.4"/>
<line x1="470.35470612321194" y1="265.3" x2="470.35470612321194" y2="266.90000000000003" stroke="#808285" stroke-width="0.4"/>
<line x1="472.51336985016644" y1="265.3" x2="472.51336985016644" y2="266.90000000000003" stroke="#808285" stroke-width="0.4"/>
<line x1="474.1877595193612" y1="265.3" x2="474.1877595193612" y2="266.90000000000003" stroke="#808285" stroke-width="0.4"/>
<line x1="475.5558354927396" y1="265.3" x2="475.5558354927396" y2="266.90000000000003" stroke="#808285" stroke-width="0.4"/>
<line x1="476.71252724691294" y1="265.3" x2="476.71252724691294" y2="266.90000000000003" stroke="#808285" stroke-width="0.4"/>
<line x1="477.7144992196941" y1="265.3" x2="477.7144992196941" y2="266.90000000000003" stroke="#808285" stroke-width="0.4"/>
<line x1="478.59830113531274" y1="265.3" x2="478.59830113531274" y2="266.90000000000003" stroke="#808285" stroke-width="0.4"/>
<line x1="479.38888888888886" y1="265.3" x2="479.38888888888886" y2="268.3" stroke="#808285" stroke-width="0.6"/>
<line x1="484.59001825841653" y1="265.3" x2="484.59001825841653" y2="266.90000000000003" stroke="#808285" stroke-width="0.4"/>
<line x1="487.6324839009897" y1="265.3" x2="487.6324839009897" y2="266.90000000000003" stroke="#808285" stroke-width="0.4"/>
<line x1="489.7911476279442" y1="265.3" x2="489.7911476279442" y2="266.90000000000003" stroke="#808285" stroke-width="0.4"/>
<line x1="491.46553729713895" y1="265.3" x2="491.46553729713895" y2="266.90000000000003" stroke="#808285" stroke-width="0.4"/>
<line x1="492.8336132705174" y1="265.3" x2="492.8336132705174" y2="266.90000000000003" stroke="#808285" stroke-width="0.4"/>
<line x1="493.9903050246907" y1="265.3" x2="493.9903050246907" y2="266.90000000000003" stroke="#808285" stroke-width="0.4"/>
<line x1="494.9922769974719" y1="265.3" x2="494.9922769974719" y2="266.90000000000003" stroke="#808285" stroke-width="0.4"/>
<line x1="495.8760789130905" y1="265.3" x2="495.8760789130905" y2="266.90000000000003" stroke="#808285" stroke-width="0.4"/>
<line x1="496.66666666666663" y1="265.3" x2="496.66666666666663" y2="268.3" stroke="#808285" stroke-width="0.6"/>
<line x1="501.8677960361943" y1="265.3" x2="501.8677960361943" y2="266.90000000000003" stroke="#808285" stroke-width="0.4"/>
<line x1="504.9102616787675" y1="265.3" x2="504.9102616787675" y2="266.90000000000003" stroke="#808285" stroke-width="0.4"/>
<line x1="507.068925405722" y1="265.3" x2="507.068925405722" y2="266.90000000000003" stroke="#808285" stroke-width="0.4"/>
<line x1="508.7433150749167" y1="265.3" x2="508.7433150749167" y2="266.90000000000003" stroke="#808285" stroke-width="0.4"/>
<line x1="510.11139104829516" y1="265.3" x2="510.11139104829516" y2="266.90000000000003" stroke="#808285" stroke-width="0.4"/>
<line x1="511.2680828024685" y1="265.3" x2="511.2680828024685" y2="266.90000000000003" stroke="#808285" stroke-width="0.4"/>
<line x1="512.2700547752496" y1="265.3" x2="512.2700547752496" y2="266.90000000000003" stroke="#808285" stroke-width="0.4"/>
<line x1="513.1538566908683" y1="265.3" x2="513.1538566908683" y2="266.90000000000003" stroke="#808285" stroke-width="0.4"/>
<text x="395.5" y="275.8" font-size="4.8" text-anchor="middle" fill="#808285">10<tspan font-size="3.5" dy="-2">0</tspan></text>
<text x="430.05555555555554" y="275.8" font-size="4.8" text-anchor="middle" fill="#808285">10<tspan font-size="3.5" dy="-2">2</tspan></text>
<text x="464.6111111111111" y="275.8" font-size="4.8" text-anchor="middle" fill="#808285">10<tspan font-size="3.5" dy="-2">4</tspan></text>
<text x="499.16666666666663" y="275.8" font-size="4.8" text-anchor="middle" fill="#808285">10<tspan font-size="3.5" dy="-2">6</tspan></text>
<line x1="373.8" y1="123.5" x2="373.8" y2="279.4" stroke="#414042" stroke-width="2.2"/>
<polygon points="373.8,108.0 365.2,124.5 382.4,124.5" fill="#414042"/>
<line x1="372.7" y1="279.4" x2="531" y2="279.4" stroke="#414042" stroke-width="2.2"/>
<polygon points="546.0,279.4 529.5,271.1 529.5,287.7" fill="#414042"/>
<text transform="translate(368.8,275) rotate(-90) scale(0.917,1)" font-size="30" stroke="#231f20" stroke-width="0.6" fill="#231f20">Count</text>
<text x="379.7" y="304.4" font-size="25.5" stroke="#231f20" stroke-width="0.6" fill="#231f20">CRT-PE</text>
<rect x="390.4" y="332.6" width="133.60000000000002" height="138.29999999999995" fill="#fff" stroke="#b1b3b6" stroke-width="1"/>
<path d="M427.0,470.3 C428.0,467.8 430.6,459.9 432.8,455.5 C435.0,451.1 438.2,448.2 440.1,443.9 C442.0,439.5 443.2,435.2 444.4,429.4 C445.6,423.6 446.4,415.6 447.3,409.1 C448.2,402.6 448.9,394.8 449.5,390.2 C450.1,385.6 450.4,382.2 451.0,381.5 C451.6,380.8 452.5,382.8 453.1,385.9 C453.7,389.0 454.0,396.5 454.6,400.4 C455.2,404.3 455.8,408.1 456.8,409.1 C457.8,410.1 459.2,405.2 460.4,406.2 C461.6,407.2 462.8,411.5 464.0,414.9 C465.2,418.3 466.4,421.7 467.6,426.5 C468.8,431.3 469.9,438.6 471.3,443.9 C472.8,449.2 474.5,454.5 476.3,458.4 C478.1,462.3 480.4,465.1 482.1,467.1 C483.8,469.1 485.8,469.8 486.5,470.3 L486.5,470.4 L427.0,470.4 Z" fill="#e6e7e8"/>
<path d="M406.7,470.3 C409.6,469.5 420.0,469.0 424.1,465.6 C428.2,462.2 429.3,456.2 431.4,449.7 C433.5,443.2 435.1,437.6 436.5,426.5 C437.9,415.4 439.1,394.6 440.1,383.0 C441.1,371.4 441.6,363.7 442.3,356.9 C443.0,350.1 443.6,342.4 444.2,342.4 C444.8,342.4 445.4,350.1 445.9,356.9 C446.4,363.7 446.8,372.6 447.3,383.0 C447.8,393.4 448.2,407.8 448.8,419.2 C449.4,430.6 449.9,444.0 451.0,451.1 C452.1,458.2 453.2,459.1 455.3,462.0 C457.4,464.9 460.5,467.3 463.3,468.5 C466.1,469.7 468.6,469.0 472.0,469.3 C475.4,469.6 481.7,470.1 483.6,470.3 L483.6,470.4 L406.7,470.4 Z" fill="#b4b5b8" style="mix-blend-mode:multiply"/>
<path d="M406.7,470.3 C409.6,469.5 420.0,469.0 424.1,465.6 C428.2,462.2 429.3,456.2 431.4,449.7 C433.5,443.2 435.1,437.6 436.5,426.5 C437.9,415.4 439.1,394.6 440.1,383.0 C441.1,371.4 441.6,363.7 442.3,356.9 C443.0,350.1 443.6,342.4 444.2,342.4 C444.8,342.4 445.4,350.1 445.9,356.9 C446.4,363.7 446.8,372.6 447.3,383.0 C447.8,393.4 448.2,407.8 448.8,419.2 C449.4,430.6 449.9,444.0 451.0,451.1 C452.1,458.2 453.2,459.1 455.3,462.0 C457.4,464.9 460.5,467.3 463.3,468.5 C466.1,469.7 468.6,469.0 472.0,469.3 C475.4,469.6 481.7,470.1 483.6,470.3" fill="none" stroke="#58595b" stroke-width="1.1"/>
<path d="M427.0,470.3 C428.0,467.8 430.6,459.9 432.8,455.5 C435.0,451.1 438.2,448.2 440.1,443.9 C442.0,439.5 443.2,435.2 444.4,429.4 C445.6,423.6 446.4,415.6 447.3,409.1 C448.2,402.6 448.9,394.8 449.5,390.2 C450.1,385.6 450.4,382.2 451.0,381.5 C451.6,380.8 452.5,382.8 453.1,385.9 C453.7,389.0 454.0,396.5 454.6,400.4 C455.2,404.3 455.8,408.1 456.8,409.1 C457.8,410.1 459.2,405.2 460.4,406.2 C461.6,407.2 462.8,411.5 464.0,414.9 C465.2,418.3 466.4,421.7 467.6,426.5 C468.8,431.3 469.9,438.6 471.3,443.9 C472.8,449.2 474.5,454.5 476.3,458.4 C478.1,462.3 480.4,465.1 482.1,467.1 C483.8,469.1 485.8,469.8 486.5,470.3" fill="none" stroke="#808285" stroke-width="1.1" stroke-dasharray="4,2.5"/>
<line x1="391.59999999999997" y1="470.29999999999995" x2="391.59999999999997" y2="338" stroke="#58595b" stroke-width="0.9"/>
<line x1="390.4" y1="470.29999999999995" x2="524" y2="470.29999999999995" stroke="#6d6e71" stroke-width="0.8"/>
<line x1="387.4" y1="469.2" x2="390.4" y2="469.2" stroke="#808285" stroke-width="0.5"/>
<line x1="388.79999999999995" y1="463.08" x2="390.4" y2="463.08" stroke="#808285" stroke-width="0.5"/>
<line x1="388.79999999999995" y1="456.96" x2="390.4" y2="456.96" stroke="#808285" stroke-width="0.5"/>
<line x1="388.79999999999995" y1="450.84" x2="390.4" y2="450.84" stroke="#808285" stroke-width="0.5"/>
<line x1="388.79999999999995" y1="444.71999999999997" x2="390.4" y2="444.71999999999997" stroke="#808285" stroke-width="0.5"/>
<line x1="387.4" y1="438.59999999999997" x2="390.4" y2="438.59999999999997" stroke="#808285" stroke-width="0.5"/>
<line x1="388.79999999999995" y1="432.47999999999996" x2="390.4" y2="432.47999999999996" stroke="#808285" stroke-width="0.5"/>
<line x1="388.79999999999995" y1="426.36" x2="390.4" y2="426.36" stroke="#808285" stroke-width="0.5"/>
<line x1="388.79999999999995" y1="420.24" x2="390.4" y2="420.24" stroke="#808285" stroke-width="0.5"/>
<line x1="388.79999999999995" y1="414.12" x2="390.4" y2="414.12" stroke="#808285" stroke-width="0.5"/>
<line x1="387.4" y1="408.0" x2="390.4" y2="408.0" stroke="#808285" stroke-width="0.5"/>
<line x1="388.79999999999995" y1="401.88" x2="390.4" y2="401.88" stroke="#808285" stroke-width="0.5"/>
<line x1="388.79999999999995" y1="395.76" x2="390.4" y2="395.76" stroke="#808285" stroke-width="0.5"/>
<line x1="388.79999999999995" y1="389.64" x2="390.4" y2="389.64" stroke="#808285" stroke-width="0.5"/>
<line x1="388.79999999999995" y1="383.52" x2="390.4" y2="383.52" stroke="#808285" stroke-width="0.5"/>
<line x1="387.4" y1="377.4" x2="390.4" y2="377.4" stroke="#808285" stroke-width="0.5"/>
<line x1="388.79999999999995" y1="371.28" x2="390.4" y2="371.28" stroke="#808285" stroke-width="0.5"/>
<line x1="388.79999999999995" y1="365.15999999999997" x2="390.4" y2="365.15999999999997" stroke="#808285" stroke-width="0.5"/>
<line x1="388.79999999999995" y1="359.03999999999996" x2="390.4" y2="359.03999999999996" stroke="#808285" stroke-width="0.5"/>
<line x1="388.79999999999995" y1="352.91999999999996" x2="390.4" y2="352.91999999999996" stroke="#808285" stroke-width="0.5"/>
<line x1="387.4" y1="346.79999999999995" x2="390.4" y2="346.79999999999995" stroke="#808285" stroke-width="0.5"/>
<line x1="388.79999999999995" y1="340.67999999999995" x2="390.4" y2="340.67999999999995" stroke="#808285" stroke-width="0.5"/>
<text x="385.9" y="471.09999999999997" font-size="5.4" text-anchor="end" fill="#808285">0</text>
<text x="385.9" y="440.49999999999994" font-size="5.4" text-anchor="end" fill="#808285">100</text>
<text x="385.9" y="409.9" font-size="5.4" text-anchor="end" fill="#808285">200</text>
<text x="385.9" y="379.29999999999995" font-size="5.4" text-anchor="end" fill="#808285">300</text>
<text x="385.9" y="348.69999999999993" font-size="5.4" text-anchor="end" fill="#808285">400</text>
<line x1="393.4" y1="470.9" x2="393.4" y2="473.9" stroke="#808285" stroke-width="0.6"/>
<line x1="398.65130103547165" y1="470.9" x2="398.65130103547165" y2="472.5" stroke="#808285" stroke-width="0.4"/>
<line x1="401.7231152212208" y1="470.9" x2="401.7231152212208" y2="472.5" stroke="#808285" stroke-width="0.4"/>
<line x1="403.9026020709433" y1="470.9" x2="403.9026020709433" y2="472.5" stroke="#808285" stroke-width="0.4"/>
<line x1="405.59314340897276" y1="470.9" x2="405.59314340897276" y2="472.5" stroke="#808285" stroke-width="0.4"/>
<line x1="406.97441625669245" y1="470.9" x2="406.97441625669245" y2="472.5" stroke="#808285" stroke-width="0.4"/>
<line x1="408.1422658091376" y1="470.9" x2="408.1422658091376" y2="472.5" stroke="#808285" stroke-width="0.4"/>
<line x1="409.153903106415" y1="470.9" x2="409.153903106415" y2="472.5" stroke="#808285" stroke-width="0.4"/>
<line x1="410.0462304424415" y1="470.9" x2="410.0462304424415" y2="472.5" stroke="#808285" stroke-width="0.4"/>
<line x1="410.84444444444443" y1="470.9" x2="410.84444444444443" y2="473.9" stroke="#808285" stroke-width="0.6"/>
<line x1="416.0957454799161" y1="470.9" x2="416.0957454799161" y2="472.5" stroke="#808285" stroke-width="0.4"/>
<line x1="419.16755966566524" y1="470.9" x2="419.16755966566524" y2="472.5" stroke="#808285" stroke-width="0.4"/>
<line x1="421.3470465153878" y1="470.9" x2="421.3470465153878" y2="472.5" stroke="#808285" stroke-width="0.4"/>
<line x1="423.0375878534172" y1="470.9" x2="423.0375878534172" y2="472.5" stroke="#808285" stroke-width="0.4"/>
<line x1="424.4188607011369" y1="470.9" x2="424.4188607011369" y2="472.5" stroke="#808285" stroke-width="0.4"/>
<line x1="425.58671025358205" y1="470.9" x2="425.58671025358205" y2="472.5" stroke="#808285" stroke-width="0.4"/>
<line x1="426.59834755085944" y1="470.9" x2="426.59834755085944" y2="472.5" stroke="#808285" stroke-width="0.4"/>
<line x1="427.490674886886" y1="470.9" x2="427.490674886886" y2="472.5" stroke="#808285" stroke-width="0.4"/>
<line x1="428.2888888888889" y1="470.9" x2="428.2888888888889" y2="473.9" stroke="#808285" stroke-width="0.6"/>
<line x1="433.54018992436056" y1="470.9" x2="433.54018992436056" y2="472.5" stroke="#808285" stroke-width="0.4"/>
<line x1="436.6120041101097" y1="470.9" x2="436.6120041101097" y2="472.5" stroke="#808285" stroke-width="0.4"/>
<line x1="438.79149095983223" y1="470.9" x2="438.79149095983223" y2="472.5" stroke="#808285" stroke-width="0.4"/>
<line x1="440.4820322978617" y1="470.9" x2="440.4820322978617" y2="472.5" stroke="#808285" stroke-width="0.4"/>
<line x1="441.86330514558136" y1="470.9" x2="441.86330514558136" y2="472.5" stroke="#808285" stroke-width="0.4"/>
<line x1="443.0311546980265" y1="470.9" x2="443.0311546980265" y2="472.5" stroke="#808285" stroke-width="0.4"/>
<line x1="444.0427919953039" y1="470.9" x2="444.0427919953039" y2="472.5" stroke="#808285" stroke-width="0.4"/>
<line x1="444.93511933133044" y1="470.9" x2="444.93511933133044" y2="472.5" stroke="#808285" stroke-width="0.4"/>
<line x1="445.73333333333335" y1="470.9" x2="445.73333333333335" y2="473.9" stroke="#808285" stroke-width="0.6"/>
<line x1="450.984634368805" y1="470.9" x2="450.984634368805" y2="472.5" stroke="#808285" stroke-width="0.4"/>
<line x1="454.05644855455415" y1="470.9" x2="454.05644855455415" y2="472.5" stroke="#808285" stroke-width="0.4"/>
<line x1="456.2359354042767" y1="470.9" x2="456.2359354042767" y2="472.5" stroke="#808285" stroke-width="0.4"/>
<line x1="457.92647674230614" y1="470.9" x2="457.92647674230614" y2="472.5" stroke="#808285" stroke-width="0.4"/>
<line x1="459.3077495900258" y1="470.9" x2="459.3077495900258" y2="472.5" stroke="#808285" stroke-width="0.4"/>
<line x1="460.47559914247097" y1="470.9" x2="460.47559914247097" y2="472.5" stroke="#808285" stroke-width="0.4"/>
<line x1="461.48723643974836" y1="470.9" x2="461.48723643974836" y2="472.5" stroke="#808285" stroke-width="0.4"/>
<line x1="462.3795637757749" y1="470.9" x2="462.3795637757749" y2="472.5" stroke="#808285" stroke-width="0.4"/>
<line x1="463.17777777777775" y1="470.9" x2="463.17777777777775" y2="473.9" stroke="#808285" stroke-width="0.6"/>
<line x1="468.4290788132494" y1="470.9" x2="468.4290788132494" y2="472.5" stroke="#808285" stroke-width="0.4"/>
<line x1="471.50089299899855" y1="470.9" x2="471.50089299899855" y2="472.5" stroke="#808285" stroke-width="0.4"/>
<line x1="473.6803798487211" y1="470.9" x2="473.6803798487211" y2="472.5" stroke="#808285" stroke-width="0.4"/>
<line x1="475.37092118675054" y1="470.9" x2="475.37092118675054" y2="472.5" stroke="#808285" stroke-width="0.4"/>
<line x1="476.7521940344702" y1="470.9" x2="476.7521940344702" y2="472.5" stroke="#808285" stroke-width="0.4"/>
<line x1="477.9200435869153" y1="470.9" x2="477.9200435869153" y2="472.5" stroke="#808285" stroke-width="0.4"/>
<line x1="478.93168088419276" y1="470.9" x2="478.93168088419276" y2="472.5" stroke="#808285" stroke-width="0.4"/>
<line x1="479.8240082202193" y1="470.9" x2="479.8240082202193" y2="472.5" stroke="#808285" stroke-width="0.4"/>
<line x1="480.6222222222222" y1="470.9" x2="480.6222222222222" y2="473.9" stroke="#808285" stroke-width="0.6"/>
<line x1="485.8735232576939" y1="470.9" x2="485.8735232576939" y2="472.5" stroke="#808285" stroke-width="0.4"/>
<line x1="488.945337443443" y1="470.9" x2="488.945337443443" y2="472.5" stroke="#808285" stroke-width="0.4"/>
<line x1="491.12482429316555" y1="470.9" x2="491.12482429316555" y2="472.5" stroke="#808285" stroke-width="0.4"/>
<line x1="492.815365631195" y1="470.9" x2="492.815365631195" y2="472.5" stroke="#808285" stroke-width="0.4"/>
<line x1="494.1966384789147" y1="470.9" x2="494.1966384789147" y2="472.5" stroke="#808285" stroke-width="0.4"/>
<line x1="495.36448803135977" y1="470.9" x2="495.36448803135977" y2="472.5" stroke="#808285" stroke-width="0.4"/>
<line x1="496.3761253286372" y1="470.9" x2="496.3761253286372" y2="472.5" stroke="#808285" stroke-width="0.4"/>
<line x1="497.26845266466376" y1="470.9" x2="497.26845266466376" y2="472.5" stroke="#808285" stroke-width="0.4"/>
<line x1="498.06666666666666" y1="470.9" x2="498.06666666666666" y2="473.9" stroke="#808285" stroke-width="0.6"/>
<line x1="503.31796770213833" y1="470.9" x2="503.31796770213833" y2="472.5" stroke="#808285" stroke-width="0.4"/>
<line x1="506.38978188788747" y1="470.9" x2="506.38978188788747" y2="472.5" stroke="#808285" stroke-width="0.4"/>
<line x1="508.56926873761" y1="470.9" x2="508.56926873761" y2="472.5" stroke="#808285" stroke-width="0.4"/>
<line x1="510.25981007563945" y1="470.9" x2="510.25981007563945" y2="472.5" stroke="#808285" stroke-width="0.4"/>
<line x1="511.64108292335914" y1="470.9" x2="511.64108292335914" y2="472.5" stroke="#808285" stroke-width="0.4"/>
<line x1="512.8089324758042" y1="470.9" x2="512.8089324758042" y2="472.5" stroke="#808285" stroke-width="0.4"/>
<line x1="513.8205697730817" y1="470.9" x2="513.8205697730817" y2="472.5" stroke="#808285" stroke-width="0.4"/>
<line x1="514.7128971091082" y1="470.9" x2="514.7128971091082" y2="472.5" stroke="#808285" stroke-width="0.4"/>
<text x="395.9" y="481.4" font-size="4.8" text-anchor="middle" fill="#808285">10<tspan font-size="3.5" dy="-2">0</tspan></text>
<text x="430.7888888888889" y="481.4" font-size="4.8" text-anchor="middle" fill="#808285">10<tspan font-size="3.5" dy="-2">2</tspan></text>
<text x="465.67777777777775" y="481.4" font-size="4.8" text-anchor="middle" fill="#808285">10<tspan font-size="3.5" dy="-2">4</tspan></text>
<text x="500.56666666666666" y="481.4" font-size="4.8" text-anchor="middle" fill="#808285">10<tspan font-size="3.5" dy="-2">6</tspan></text>
<line x1="375.4" y1="327.5" x2="375.4" y2="485" stroke="#414042" stroke-width="2.2"/>
<polygon points="375.4,311.3 366.8,328.5 384.0,328.5" fill="#414042"/>
<line x1="374.29999999999995" y1="485" x2="531.5" y2="485" stroke="#414042" stroke-width="2.2"/>
<polygon points="546.5,485.0 530.0,476.7 530.0,493.3" fill="#414042"/>
<text transform="translate(366,478.3) rotate(-90) scale(0.917,1)" font-size="30" stroke="#231f20" stroke-width="0.6" fill="#231f20">Count</text>
<text x="383.8" y="511.5" font-size="25.5" stroke="#231f20" stroke-width="0.6" fill="#231f20">HSP70-PE</text>
<rect x="245.7" y="258.5" width="19.30000000000001" height="25.100000000000023" fill="#fff" stroke="#231f20" stroke-width="2.2"/>
<rect x="280.5" y="146.4" width="19.80000000000001" height="137.20000000000002" fill="#fff" stroke="#bcbec0" stroke-width="2.2"/>
<line x1="231.2" y1="127.6" x2="231.2" y2="284.6" stroke="#231f20" stroke-width="2.6"/>
<line x1="227.39999999999998" y1="127.6" x2="231.2" y2="127.6" stroke="#231f20" stroke-width="2.4"/>
<line x1="227.39999999999998" y1="166.6" x2="231.2" y2="166.6" stroke="#231f20" stroke-width="2.4"/>
<line x1="227.39999999999998" y1="205.60000000000002" x2="231.2" y2="205.60000000000002" stroke="#231f20" stroke-width="2.4"/>
<line x1="227.39999999999998" y1="244.60000000000002" x2="231.2" y2="244.60000000000002" stroke="#231f20" stroke-width="2.4"/>
<line x1="227.39999999999998" y1="283.6" x2="231.2" y2="283.6" stroke="#231f20" stroke-width="2.4"/>
<line x1="227.39999999999998" y1="283.6" x2="313.3" y2="283.6" stroke="#231f20" stroke-width="2.6"/>
<text x="222.39999999999998" y="135.79999999999998" font-size="19" stroke="#231f20" stroke-width="0.6" text-anchor="end" fill="#231f20">80</text>
<text x="222.39999999999998" y="291.8" font-size="19" stroke="#231f20" stroke-width="0.6" text-anchor="end" fill="#231f20">0</text>
<line x1="255.35" y1="283.6" x2="255.35" y2="287.8" stroke="#231f20" stroke-width="2"/>
<line x1="290.4" y1="283.6" x2="290.4" y2="287.8" stroke="#231f20" stroke-width="2"/>
<path d="M255.4,246.9 V129.4 H291 V135.7" fill="none" stroke="#231f20" stroke-width="2.2"/>
<text x="273.7" y="132.20000000000002" font-size="14.5" font-weight="bold" text-anchor="middle" fill="#231f20">**</text>
<text transform="translate(213,249) rotate(-90) scale(0.947,1)" font-size="28.5" stroke="#231f20" stroke-width="0.6" fill="#231f20">%CRT<tspan font-size="18" dy="-10">+</tspan></text>
<line x1="255.4" y1="252.7" x2="255.4" y2="260" stroke="#231f20" stroke-width="2"/>
<line x1="249" y1="252.7" x2="262" y2="252.7" stroke="#231f20" stroke-width="2.2"/>
<line x1="249" y1="260" x2="262" y2="260" stroke="#231f20" stroke-width="2"/>
<circle cx="246.9" cy="258.8" r="3.2" fill="#231f20"/>
<circle cx="264.2" cy="254.2" r="3.2" fill="#231f20"/>
<line x1="290.5" y1="139.6" x2="290.5" y2="150.2" stroke="#231f20" stroke-width="2.5"/>
<line x1="284.5" y1="139.6" x2="297" y2="139.6" stroke="#231f20" stroke-width="2.5"/>
<line x1="284.5" y1="150.2" x2="297" y2="150.2" stroke="#231f20" stroke-width="2.5"/>
<rect x="287.5" y="140" width="6" height="10" fill="#231f20"/>
<rect x="245.7" y="463" width="20.5" height="22.69999999999999" fill="#fff" stroke="#231f20" stroke-width="2.2"/>
<rect x="282.4" y="343" width="20.5" height="142.7" fill="#fff" stroke="#bcbec0" stroke-width="2.2"/>
<line x1="230.5" y1="323.7" x2="230.5" y2="486.7" stroke="#231f20" stroke-width="2.6"/>
<line x1="226.7" y1="323.7" x2="230.5" y2="323.7" stroke="#231f20" stroke-width="2.4"/>
<line x1="226.7" y1="364.2" x2="230.5" y2="364.2" stroke="#231f20" stroke-width="2.4"/>
<line x1="226.7" y1="404.7" x2="230.5" y2="404.7" stroke="#231f20" stroke-width="2.4"/>
<line x1="226.7" y1="445.2" x2="230.5" y2="445.2" stroke="#231f20" stroke-width="2.4"/>
<line x1="226.7" y1="485.7" x2="230.5" y2="485.7" stroke="#231f20" stroke-width="2.4"/>
<line x1="226.7" y1="485.7" x2="316.8" y2="485.7" stroke="#231f20" stroke-width="2.6"/>
<text x="221.7" y="331.9" font-size="19" stroke="#231f20" stroke-width="0.6" text-anchor="end" fill="#231f20">80</text>
<text x="221.7" y="491.7" font-size="19" stroke="#231f20" stroke-width="0.6" text-anchor="end" fill="#231f20">0</text>
<line x1="255.95" y1="485.7" x2="255.95" y2="489.9" stroke="#231f20" stroke-width="2"/>
<line x1="292.65" y1="485.7" x2="292.65" y2="489.9" stroke="#231f20" stroke-width="2"/>
<path d="M255.4,453.8 V330 H292.7 V336.7" fill="none" stroke="#231f20" stroke-width="2.2"/>
<text x="274.55" y="332.8" font-size="14.5" font-weight="bold" text-anchor="middle" fill="#231f20">***</text>
<text transform="translate(214,462) rotate(-90) scale(0.947,1)" font-size="28.5" stroke="#231f20" stroke-width="0.6" fill="#231f20">%HSP70<tspan font-size="18" dy="-10">+</tspan></text>
<line x1="255.4" y1="457.5" x2="255.4" y2="466" stroke="#231f20" stroke-width="2"/>
<line x1="249.5" y1="457.5" x2="262" y2="457.5" stroke="#231f20" stroke-width="2.2"/>
<line x1="249.5" y1="466" x2="262" y2="466" stroke="#231f20" stroke-width="2"/>
<circle cx="247.5" cy="463.2" r="3.2" fill="#231f20"/>
<circle cx="265.3" cy="458.2" r="3.2" fill="#231f20"/>
<line x1="283.5" y1="342.5" x2="302" y2="342.5" stroke="#231f20" stroke-width="4"/>
<rect x="282.6" y="339.8" width="6" height="6" fill="#231f20"/>
<rect x="297.2" y="338.5" width="6" height="6" fill="#231f20"/>
<rect x="587" y="275.7" width="20.5" height="5.900000000000034" fill="#fff" stroke="#231f20" stroke-width="2.2"/>
<rect x="622.6" y="156.5" width="20.199999999999932" height="125.10000000000002" fill="#fff" stroke="#bcbec0" stroke-width="2.2"/>
<line x1="573.4" y1="125.2" x2="573.4" y2="282.6" stroke="#231f20" stroke-width="2.6"/>
<line x1="569.6" y1="125.2" x2="573.4" y2="125.2" stroke="#231f20" stroke-width="2.4"/>
<line x1="569.6" y1="164.3" x2="573.4" y2="164.3" stroke="#231f20" stroke-width="2.4"/>
<line x1="569.6" y1="203.40000000000003" x2="573.4" y2="203.40000000000003" stroke="#231f20" stroke-width="2.4"/>
<line x1="569.6" y1="242.50000000000003" x2="573.4" y2="242.50000000000003" stroke="#231f20" stroke-width="2.4"/>
<line x1="569.6" y1="281.6" x2="573.4" y2="281.6" stroke="#231f20" stroke-width="2.4"/>
<line x1="569.6" y1="281.6" x2="656.4" y2="281.6" stroke="#231f20" stroke-width="2.6"/>
<text x="564.6" y="133.4" font-size="19" stroke="#231f20" stroke-width="0.6" text-anchor="end" fill="#231f20">80</text>
<text x="564.6" y="289.8" font-size="19" stroke="#231f20" stroke-width="0.6" text-anchor="end" fill="#231f20">0</text>
<line x1="597.25" y1="281.6" x2="597.25" y2="285.8" stroke="#231f20" stroke-width="2"/>
<line x1="632.7" y1="281.6" x2="632.7" y2="285.8" stroke="#231f20" stroke-width="2"/>
<path d="M597,272 V136 H633.5 V144" fill="none" stroke="#231f20" stroke-width="2.2"/>
<text x="615.75" y="138.8" font-size="14.5" font-weight="bold" text-anchor="middle" fill="#231f20">**</text>
<text transform="translate(557,247) rotate(-90) scale(0.947,1)" font-size="28.5" stroke="#231f20" stroke-width="0.6" fill="#231f20">%CRT<tspan font-size="18" dy="-10">+</tspan></text>
<line x1="597" y1="267" x2="597" y2="281" stroke="#231f20" stroke-width="2"/>
<line x1="591" y1="267" x2="603" y2="267" stroke="#231f20" stroke-width="2.2"/>
<circle cx="597" cy="274" r="3.2" fill="#231f20"/>
<circle cx="597" cy="282" r="3.0" fill="#231f20"/>
<line x1="633" y1="147" x2="633" y2="163.5" stroke="#231f20" stroke-width="2"/>
<line x1="627" y1="147" x2="639" y2="147" stroke="#231f20" stroke-width="2.2"/>
<line x1="627" y1="163.5" x2="639" y2="163.5" stroke="#231f20" stroke-width="2.2"/>
<rect x="630" y="148.5" width="6" height="6" fill="#231f20"/>
<rect x="630" y="156.5" width="6" height="6" fill="#231f20"/>
<rect x="588.2" y="475" width="21.799999999999955" height="10" fill="#fff" stroke="#231f20" stroke-width="2.2"/>
<rect x="626" y="370.8" width="22" height="114.19999999999999" fill="#fff" stroke="#bcbec0" stroke-width="2.2"/>
<line x1="571.9" y1="315.4" x2="571.9" y2="486" stroke="#231f20" stroke-width="2.6"/>
<line x1="568.1" y1="315.4" x2="571.9" y2="315.4" stroke="#231f20" stroke-width="2.4"/>
<line x1="568.1" y1="357.79999999999995" x2="571.9" y2="357.79999999999995" stroke="#231f20" stroke-width="2.4"/>
<line x1="568.1" y1="400.2" x2="571.9" y2="400.2" stroke="#231f20" stroke-width="2.4"/>
<line x1="568.1" y1="442.6" x2="571.9" y2="442.6" stroke="#231f20" stroke-width="2.4"/>
<line x1="568.1" y1="485.0" x2="571.9" y2="485.0" stroke="#231f20" stroke-width="2.4"/>
<line x1="568.1" y1="485" x2="662.3" y2="485" stroke="#231f20" stroke-width="2.6"/>
<text x="563.1" y="323.59999999999997" font-size="19" stroke="#231f20" stroke-width="0.6" text-anchor="end" fill="#231f20">80</text>
<text x="563.1" y="491.3" font-size="19" stroke="#231f20" stroke-width="0.6" text-anchor="end" fill="#231f20">0</text>
<line x1="599.1" y1="485" x2="599.1" y2="489.2" stroke="#231f20" stroke-width="2"/>
<line x1="637.0" y1="485" x2="637.0" y2="489.2" stroke="#231f20" stroke-width="2"/>
<path d="M598.5,456.8 V347.3 H637.6 V355" fill="none" stroke="#231f20" stroke-width="2.2"/>
<text x="618.55" y="350.1" font-size="14.5" font-weight="bold" text-anchor="middle" fill="#231f20">*</text>
<text transform="translate(555.5,453.7) rotate(-90) scale(0.947,1)" font-size="28.5" stroke="#231f20" stroke-width="0.6" fill="#231f20">%HSP70<tspan font-size="18" dy="-10">+</tspan></text>
<line x1="598.5" y1="461" x2="598.5" y2="485" stroke="#231f20" stroke-width="2"/>
<line x1="592" y1="461" x2="604.5" y2="461" stroke="#231f20" stroke-width="2.2"/>
<circle cx="598.5" cy="465.5" r="3.2" fill="#231f20"/>
<circle cx="598.5" cy="483" r="3.2" fill="#231f20"/>
<line x1="637.5" y1="358.5" x2="637.5" y2="379" stroke="#231f20" stroke-width="2"/>
<line x1="631" y1="358.5" x2="644" y2="358.5" stroke="#231f20" stroke-width="2.2"/>
<line x1="631" y1="379" x2="644" y2="379" stroke="#231f20" stroke-width="2.2"/>
<circle cx="637.5" cy="362.5" r="3.3" fill="#231f20"/>
<circle cx="637.5" cy="376" r="3.3" fill="#231f20"/>
<rect x="681.5" y="126" width="5.6" height="553.7" fill="#231f20"/>
<text transform="translate(703.8,272.5) rotate(90) scale(0.91,1)" font-size="33" stroke="#231f20" stroke-width="0.6" fill="#231f20" dominant-baseline="auto">Classical DAMPs</text>
<text x="1" y="568" font-size="40" font-weight="bold" fill="#231f20">c</text>
<text x="358" y="568" font-size="40" font-weight="bold" fill="#231f20">d</text>
<defs>
<filter id="blur1" x="-50%" y="-50%" width="200%" height="200%"><feGaussianBlur stdDeviation="2.0"/></filter>
<filter id="blur2" x="-50%" y="-50%" width="200%" height="200%"><feGaussianBlur stdDeviation="1.3"/></filter>
<filter id="blur3" x="-50%" y="-50%" width="200%" height="200%"><feGaussianBlur stdDeviation="4"/></filter>
<clipPath id="clipc"><rect x="112.4" y="669" width="107.6" height="56.3"/></clipPath>
<clipPath id="clipd"><rect x="424.6" y="675" width="116.4" height="54.5"/></clipPath>
</defs>
<rect x="112.4" y="669.3" width="107.6" height="56" fill="#cecfd2"/>
<g clip-path="url(#clipc)"><ellipse cx="135" cy="712" rx="18" ry="9" fill="#c4c5c8" filter="url(#blur3)"/><ellipse cx="190" cy="696.3" rx="19.5" ry="5.6" fill="#7a7a7d" filter="url(#blur1)"/><ellipse cx="191" cy="696.3" rx="15.5" ry="3.4" fill="#5e5e61" filter="url(#blur2)"/><ellipse cx="183" cy="713" rx="6" ry="5" fill="#bfc0c3" filter="url(#blur3)"/><ellipse cx="201" cy="713" rx="6" ry="5" fill="#bfc0c3" filter="url(#blur3)"/><circle cx="181.1" cy="684" r="1.1" fill="#6d6e71"/></g>
<rect x="112.4" y="669.3" width="107.6" height="56" fill="none" stroke="#3a3a3c" stroke-width="2.6" rx="1"/>
<text x="54.5" y="684.9" font-size="26.5" stroke="#231f20" stroke-width="0.6" text-anchor="middle" fill="#231f20">IB:</text>
<text x="53.8" y="718" font-size="26.5" stroke="#231f20" stroke-width="0.6" text-anchor="middle" fill="#231f20">HMGB1</text>
<rect x="424.6" y="675.2" width="116.4" height="54.2" fill="#c9cacd"/>
<g clip-path="url(#clipd)"><ellipse cx="450" cy="682" rx="12" ry="7" fill="#a9aaad" filter="url(#blur3)"/><ellipse cx="505" cy="684" rx="8" ry="5" fill="#a9aaad" filter="url(#blur3)"/><ellipse cx="510" cy="717" rx="12" ry="7" fill="#b3b4b7" filter="url(#blur3)"/><path d="M486,697 C486,692 494,690.5 505,690.2 C516,689.8 524,692 524,697 C524,702 516,704.8 506,704.8 C496,704.8 486,702 486,697 Z" fill="#3f3f41" filter="url(#blur2)"/><path d="M488,697 C488,693 495,691.5 505,691.2 C515,691 522,693 522,697 C522,701 515,703.6 506,703.6 C496,703.6 488,701 488,697 Z" fill="#3d3d3f"/></g>
<rect x="424.6" y="675.2" width="116.4" height="54.2" fill="none" stroke="#3a3a3c" stroke-width="2.6" rx="1"/>
<text x="368" y="682.7" font-size="26.5" stroke="#231f20" stroke-width="0.6" text-anchor="middle" fill="#231f20">IB:</text>
<text x="367" y="715" font-size="26.5" stroke="#231f20" stroke-width="0.6" text-anchor="middle" fill="#231f20">HMGB1</text>
<text x="551" y="710.5" font-size="27" stroke="#231f20" stroke-width="0.6" fill="#231f20" word-spacing="2.5">~29 kDa</text>
<text transform="translate(143.7,660.7) rotate(-57)" font-size="27" stroke="#231f20" stroke-width="0.6" fill="#231f20">Control</text>
<text transform="translate(189.7,654.3) rotate(-57)" font-size="27" stroke="#231f20" stroke-width="0.6" fill="#231f20">gemCTx</text>
<text transform="translate(456.3,664) rotate(-57)" font-size="27" stroke="#231f20" stroke-width="0.6" fill="#231f20">Control</text>
<text transform="translate(502.1,659.4) rotate(-57)" font-size="27" stroke="#231f20" stroke-width="0.6" fill="#231f20">gemCTx</text>
<text x="0" y="793" font-size="40" font-weight="bold" fill="#231f20">e</text>
<text x="151" y="832.2" font-size="27.3" stroke="#231f20" stroke-width="0.6" text-anchor="middle" fill="#231f20">Vaccination</text>
<line x1="81" y1="837.3" x2="221.8" y2="837.3" stroke="#231f20" stroke-width="2.7"/>
<text x="364.2" y="798.7" font-size="27.3" stroke="#231f20" stroke-width="0.6" text-anchor="middle" fill="#231f20">Live cell</text>
<line x1="314.5" y1="802.6" x2="413.6" y2="802.6" stroke="#231f20" stroke-width="2.7"/>
<text x="364.2" y="830.9" font-size="27.3" stroke="#231f20" stroke-width="0.6" text-anchor="middle" fill="#231f20">challenge</text>
<line x1="305.5" y1="835.5" x2="422.6" y2="835.5" stroke="#231f20" stroke-width="2.8"/>
<text x="135.5" y="1013.6" font-size="27.3" stroke="#231f20" stroke-width="0.6" text-anchor="middle" fill="#231f20">Day 0</text>
<text x="365.5" y="1011.2" font-size="27.3" stroke="#231f20" stroke-width="0.6" text-anchor="middle" fill="#231f20">Day 8</text>
<text x="537" y="907.5" font-size="25.2" stroke="#231f20" stroke-width="0.6" text-anchor="middle" fill="#231f20">Tumor growth</text>
<rect x="187.5" y="915.8" width="92" height="6.0" fill="#231f20"/>
<polygon points="296.3,918.8 277.6,909.6 277.6,928.2" fill="#231f20"/>
<rect x="429.4" y="918.0" width="215" height="5.6" fill="#231f20"/>
<polygon points="660.7,920.8 642.6,912.3 642.6,929.6" fill="#231f20"/>
<path d="M60.1,993.2 C61.8,990.2 67.0,980.9 70.0,975.5 C73.0,970.1 75.8,964.4 78.0,961.0 C80.2,957.6 81.4,955.4 83.1,955.0 C84.8,954.6 86.0,956.3 88.0,958.5 C90.0,960.7 93.0,965.3 95.0,968.0 C97.0,970.7 98.7,973.1 100.0,974.5 C101.3,975.9 101.7,976.5 103.0,976.3 C104.3,976.1 105.8,975.5 108.0,973.5 C110.2,971.5 113.3,967.6 116.0,964.0 C118.7,960.4 123.0,953.7 124.4,951.6" fill="none" stroke="#231f20" stroke-width="4.0" stroke-linecap="round"/>
<path d="M92.5,965.0 C93.2,966.8 95.7,973.0 97.0,976.0 C98.3,979.0 99.4,981.3 100.5,983.0 C101.6,984.7 102.2,985.9 103.4,986.1 C104.6,986.3 105.7,985.9 107.5,984.0 C109.3,982.1 111.8,978.4 114.0,975.0 C116.2,971.6 118.3,967.3 120.5,963.5 C122.7,959.7 126.0,953.9 127.1,952.0" fill="none" stroke="#231f20" stroke-width="3.0" stroke-linecap="round"/>
<circle cx="133.8" cy="921" r="30.8" fill="#fff" stroke="#231f20" stroke-width="2.6"/>
<circle cx="134.2" cy="888.5" r="21.6" fill="#fff" stroke="#231f20" stroke-width="2.7"/>
<g><path d="M112.3,887.9 C110.8,888.2 105.8,888.5 103.5,889.6 C101.2,890.7 99.8,892.8 98.8,894.6 C97.8,896.4 97.6,898.3 97.8,900.2 C98.0,902.1 98.7,904.2 100.1,906.1 C101.5,908.0 103.6,910.1 106.2,911.5 C108.8,912.9 112.8,914.0 115.7,914.2 C118.6,914.4 121.7,913.7 123.8,912.9 C125.9,912.1 127.4,911.0 128.5,909.5 C129.6,908.0 130.4,905.9 130.6,904.1 C130.8,902.3 130.0,899.8 129.9,898.9 C128.5,896.6 127.6,896.0 126.8,895.4 L115.0,887.6 Q113.8,887.2 112.3,887.9 Z" fill="#fff" stroke="#231f20" stroke-width="2.7" stroke-linejoin="round"/><path d="M113.7,892.6 C114.7,893.2 117.6,895.1 119.5,896.3 C121.4,897.5 125.0,898.7 125.2,900.0 C125.4,901.3 122.6,903.2 120.4,904.1 C118.2,905.0 114.4,905.3 112.3,905.1 C110.2,904.9 108.5,903.8 107.6,902.7 C106.7,901.6 106.6,900.1 106.9,898.7 C107.2,897.4 108.5,895.6 109.6,894.6 C110.7,893.6 113.0,892.9 113.7,892.6 Z" fill="#e6e7e8" stroke="#b1b3b6" stroke-width="2.7" stroke-linejoin="round"/></g>
<g transform="translate(268.8,0) scale(-1,1)"><path d="M112.3,887.9 C110.8,888.2 105.8,888.5 103.5,889.6 C101.2,890.7 99.8,892.8 98.8,894.6 C97.8,896.4 97.6,898.3 97.8,900.2 C98.0,902.1 98.7,904.2 100.1,906.1 C101.5,908.0 103.6,910.1 106.2,911.5 C108.8,912.9 112.8,914.0 115.7,914.2 C118.6,914.4 121.7,913.7 123.8,912.9 C125.9,912.1 127.4,911.0 128.5,909.5 C129.6,908.0 130.4,905.9 130.6,904.1 C130.8,902.3 130.0,899.8 129.9,898.9 C128.5,896.6 127.6,896.0 126.8,895.4 L115.0,887.6 Q113.8,887.2 112.3,887.9 Z" fill="#fff" stroke="#231f20" stroke-width="2.7" stroke-linejoin="round"/><path d="M113.7,892.6 C114.7,893.2 117.6,895.1 119.5,896.3 C121.4,897.5 125.0,898.7 125.2,900.0 C125.4,901.3 122.6,903.2 120.4,904.1 C118.2,905.0 114.4,905.3 112.3,905.1 C110.2,904.9 108.5,903.8 107.6,902.7 C106.7,901.6 106.6,900.1 106.9,898.7 C107.2,897.4 108.5,895.6 109.6,894.6 C110.7,893.6 113.0,892.9 113.7,892.6 Z" fill="#e6e7e8" stroke="#b1b3b6" stroke-width="2.7" stroke-linejoin="round"/></g>
<ellipse cx="125.5" cy="885.8" rx="4.4" ry="3.7" fill="#231f20"/>
<ellipse cx="143.4" cy="885.8" rx="4.4" ry="3.7" fill="#231f20"/>
<path d="M133.95,866.4 Q118.4,865.6 108.3,862.2" fill="none" stroke="#231f20" stroke-width="1.35" stroke-linecap="round"/>
<path d="M133.95,866.4 Q120.4,863.2 114,857.4" fill="none" stroke="#231f20" stroke-width="1.35" stroke-linecap="round"/>
<path d="M133.95,866.4 Q147.5,865.0 155.2,861.8" fill="none" stroke="#231f20" stroke-width="1.35" stroke-linecap="round"/>
<path d="M133.95,866.4 Q145.4,862.0 151.2,857.8" fill="none" stroke="#231f20" stroke-width="1.35" stroke-linecap="round"/>
<ellipse cx="133.95" cy="866.4" rx="4.4" ry="3.4" fill="#231f20"/>
<path d="M285.2,993.2 C286.9,990.2 292.1,980.9 295.1,975.5 C298.1,970.1 300.9,964.4 303.1,961.0 C305.3,957.6 306.5,955.4 308.2,955.0 C309.9,954.6 311.1,956.3 313.1,958.5 C315.1,960.7 318.1,965.3 320.1,968.0 C322.1,970.7 323.8,973.1 325.1,974.5 C326.4,975.9 326.8,976.5 328.1,976.3 C329.4,976.1 330.9,975.5 333.1,973.5 C335.3,971.5 338.4,967.6 341.1,964.0 C343.8,960.4 348.1,953.7 349.5,951.6" fill="none" stroke="#231f20" stroke-width="4.0" stroke-linecap="round"/>
<path d="M317.6,965.0 C318.4,966.8 320.8,973.0 322.1,976.0 C323.4,979.0 324.5,981.3 325.6,983.0 C326.7,984.7 327.3,985.9 328.5,986.1 C329.7,986.3 330.8,985.9 332.6,984.0 C334.4,982.1 336.9,978.4 339.1,975.0 C341.3,971.6 343.4,967.3 345.6,963.5 C347.8,959.7 351.1,953.9 352.2,952.0" fill="none" stroke="#231f20" stroke-width="3.0" stroke-linecap="round"/>
<circle cx="358.9" cy="921" r="30.8" fill="#fff" stroke="#231f20" stroke-width="2.6"/>
<circle cx="359.29999999999995" cy="888.5" r="21.6" fill="#fff" stroke="#231f20" stroke-width="2.7"/>
<g><path d="M337.4,887.9 C335.9,888.2 330.9,888.5 328.6,889.6 C326.4,890.7 324.8,892.8 323.9,894.6 C322.9,896.4 322.7,898.3 322.9,900.2 C323.1,902.1 323.8,904.2 325.2,906.1 C326.6,908.0 328.7,910.1 331.3,911.5 C333.9,912.9 337.9,914.0 340.8,914.2 C343.7,914.4 346.8,913.7 348.9,912.9 C351.0,912.1 352.5,911.0 353.6,909.5 C354.7,908.0 355.5,905.9 355.7,904.1 C355.9,902.3 355.1,899.8 355.0,898.9 C353.6,896.6 352.7,896.0 351.9,895.4 L340.1,887.6 Q338.9,887.2 337.4,887.9 Z" fill="#fff" stroke="#231f20" stroke-width="2.7" stroke-linejoin="round"/><path d="M338.8,892.6 C339.8,893.2 342.7,895.1 344.6,896.3 C346.5,897.5 350.2,898.7 350.3,900.0 C350.4,901.3 347.6,903.2 345.5,904.1 C343.4,905.0 339.5,905.3 337.4,905.1 C335.3,904.9 333.6,903.8 332.7,902.7 C331.8,901.6 331.7,900.1 332.0,898.7 C332.3,897.4 333.6,895.6 334.7,894.6 C335.8,893.6 338.1,892.9 338.8,892.6 Z" fill="#e6e7e8" stroke="#b1b3b6" stroke-width="2.7" stroke-linejoin="round"/></g>
<g transform="translate(719.0,0) scale(-1,1)"><path d="M337.4,887.9 C335.9,888.2 330.9,888.5 328.6,889.6 C326.4,890.7 324.8,892.8 323.9,894.6 C322.9,896.4 322.7,898.3 322.9,900.2 C323.1,902.1 323.8,904.2 325.2,906.1 C326.6,908.0 328.7,910.1 331.3,911.5 C333.9,912.9 337.9,914.0 340.8,914.2 C343.7,914.4 346.8,913.7 348.9,912.9 C351.0,912.1 352.5,911.0 353.6,909.5 C354.7,908.0 355.5,905.9 355.7,904.1 C355.9,902.3 355.1,899.8 355.0,898.9 C353.6,896.6 352.7,896.0 351.9,895.4 L340.1,887.6 Q338.9,887.2 337.4,887.9 Z" fill="#fff" stroke="#231f20" stroke-width="2.7" stroke-linejoin="round"/><path d="M338.8,892.6 C339.8,893.2 342.7,895.1 344.6,896.3 C346.5,897.5 350.2,898.7 350.3,900.0 C350.4,901.3 347.6,903.2 345.5,904.1 C343.4,905.0 339.5,905.3 337.4,905.1 C335.3,904.9 333.6,903.8 332.7,902.7 C331.8,901.6 331.7,900.1 332.0,898.7 C332.3,897.4 333.6,895.6 334.7,894.6 C335.8,893.6 338.1,892.9 338.8,892.6 Z" fill="#e6e7e8" stroke="#b1b3b6" stroke-width="2.7" stroke-linejoin="round"/></g>
<ellipse cx="350.6" cy="885.8" rx="4.4" ry="3.7" fill="#231f20"/>
<ellipse cx="368.5" cy="885.8" rx="4.4" ry="3.7" fill="#231f20"/>
<path d="M359.04999999999995,866.4 Q343.5,865.6 333.4,862.2" fill="none" stroke="#231f20" stroke-width="1.35" stroke-linecap="round"/>
<path d="M359.04999999999995,866.4 Q345.5,863.2 339.1,857.4" fill="none" stroke="#231f20" stroke-width="1.35" stroke-linecap="round"/>
<path d="M359.04999999999995,866.4 Q372.6,865.0 380.29999999999995,861.8" fill="none" stroke="#231f20" stroke-width="1.35" stroke-linecap="round"/>
<path d="M359.04999999999995,866.4 Q370.5,862.0 376.29999999999995,857.8" fill="none" stroke="#231f20" stroke-width="1.35" stroke-linecap="round"/>
<ellipse cx="359.04999999999995" cy="866.4" rx="4.4" ry="3.4" fill="#231f20"/>
<g transform="translate(101.2,942.2) rotate(-9.1)"><line x1="0" y1="0" x2="15.8" y2="0" stroke="#231f20" stroke-width="1.5"/><rect x="-40" y="-3.7" width="40" height="7.4" rx="1" fill="#fff" stroke="#231f20" stroke-width="2.8"/><line x1="-37" y1="0.9" x2="-4" y2="0.9" stroke="#231f20" stroke-width="1.4" stroke-dasharray="1,2.2"/><line x1="-46" y1="0" x2="-40" y2="0" stroke="#231f20" stroke-width="1.4"/></g>
<circle cx="49.6" cy="944.2" r="3.7" fill="#fff" stroke="#231f20" stroke-width="2.6"/>
<circle cx="51.6" cy="954.3" r="3.7" fill="#fff" stroke="#231f20" stroke-width="2.6"/>
<g transform="translate(387.0,942.3) rotate(211)"><line x1="0" y1="0" x2="14.5" y2="0" stroke="#231f20" stroke-width="1.5"/><rect x="-40" y="-3.7" width="40" height="7.4" rx="1" fill="#fff" stroke="#231f20" stroke-width="2.8"/><line x1="-37" y1="0.9" x2="-4" y2="0.9" stroke="#231f20" stroke-width="1.4" stroke-dasharray="1,2.2"/><line x1="-46" y1="0" x2="-40" y2="0" stroke="#231f20" stroke-width="1.4"/></g>
<circle cx="433.7" cy="966.7" r="4.1" fill="#fff" stroke="#231f20" stroke-width="2.7"/>
<circle cx="428.6" cy="975.8" r="4.1" fill="#fff" stroke="#231f20" stroke-width="2.7"/>
<text x="800" y="31" font-size="40" font-weight="bold" fill="#231f20">f</text>
<line x1="905.3" y1="89.6" x2="905.3" y2="431.8" stroke="#231f20" stroke-width="3.4"/>
<line x1="890.9" y1="430.1" x2="905.3" y2="430.1" stroke="#231f20" stroke-width="3.4"/>
<text x="877" y="438.8" font-size="25.5" font-weight="bold" text-anchor="end" fill="#231f20">0</text>
<line x1="890.9" y1="316.6" x2="905.3" y2="316.6" stroke="#231f20" stroke-width="3.4"/>
<text x="877" y="325.3" font-size="25.5" font-weight="bold" text-anchor="end" fill="#231f20">20</text>
<line x1="890.9" y1="203.10000000000002" x2="905.3" y2="203.10000000000002" stroke="#231f20" stroke-width="3.4"/>
<text x="877" y="211.8" font-size="25.5" font-weight="bold" text-anchor="end" fill="#231f20">40</text>
<line x1="890.9" y1="89.60000000000002" x2="905.3" y2="89.60000000000002" stroke="#231f20" stroke-width="3.4"/>
<text x="877" y="98.30000000000003" font-size="25.5" font-weight="bold" text-anchor="end" fill="#231f20">60</text>
<line x1="890.7" y1="430.1" x2="1422.1" y2="430.1" stroke="#231f20" stroke-width="3.4"/>
<line x1="965.7" y1="430.1" x2="965.7" y2="444.5" stroke="#231f20" stroke-width="3.2"/>
<text x="965.7" y="476.2" font-size="24.5" font-weight="bold" text-anchor="middle" fill="#231f20">0</text>
<line x1="1097.7" y1="430.1" x2="1097.7" y2="444.5" stroke="#231f20" stroke-width="3.2"/>
<text x="1097.7" y="476.2" font-size="24.5" font-weight="bold" text-anchor="middle" fill="#231f20">14</text>
<line x1="1229.4" y1="430.1" x2="1229.4" y2="444.5" stroke="#231f20" stroke-width="3.2"/>
<text x="1229.4" y="476.2" font-size="24.5" font-weight="bold" text-anchor="middle" fill="#231f20">28</text>
<line x1="1361.1" y1="430.1" x2="1361.1" y2="444.5" stroke="#231f20" stroke-width="3.2"/>
<text x="1361.1" y="476.2" font-size="24.5" font-weight="bold" text-anchor="middle" fill="#231f20">38</text>
<text x="1160.2" y="518.8" font-size="29.2" font-weight="bold" text-anchor="middle" fill="#231f20">Days post challenge</text>
<text transform="translate(825.8,266.5) rotate(-90) scale(0.947,1)" font-size="30.4" font-weight="bold" text-anchor="middle" fill="#231f20">Tumor volume (mm<tspan font-size="22.5" dy="-11">3</tspan><tspan dy="11">)</tspan></text>
<rect x="917" y="91" width="219" height="176.6" fill="#fff" stroke="#231f20" stroke-width="2.2"/>
<circle cx="943.1" cy="119" r="6" fill="#231f20"/>
<rect x="936.7" y="153.6" width="12.6" height="12.2" fill="none" stroke="#231f20" stroke-width="3"/>
<circle cx="943.1" cy="201.6" r="6.3" fill="none" stroke="#231f20" stroke-width="3"/>
<polygon points="943.1,238.3 937.0,248.4 949.2,248.4" fill="none" stroke="#231f20" stroke-width="3" stroke-linejoin="round"/>
<text x="963" y="127.1" font-size="24" stroke="#231f20" stroke-width="0.6" fill="#231f20">Control</text>
<text x="963" y="166.3" font-size="24" stroke="#231f20" stroke-width="0.6" fill="#231f20">Mitoxantrone</text>
<text x="963" y="210.4" font-size="24" stroke="#231f20" stroke-width="0.6" fill="#231f20">Cisplatin</text>
<text x="963" y="251" font-size="24" stroke="#231f20" stroke-width="0.6" fill="#231f20">Gemcitabine</text>
<rect x="915" y="425.2" width="17.8" height="10.6" rx="5.3" fill="#231f20"/>
<rect x="941.4" y="423.6" width="21.4" height="13.4" rx="1" fill="#231f20"/>
<rect x="944.9" y="426.70000000000005" width="1.2" height="2.0" fill="#9d9fa2"/>
<rect x="944.9" y="431.3" width="1.2" height="2.0" fill="#9d9fa2"/>
<rect x="949.9" y="426.70000000000005" width="1.2" height="2.0" fill="#9d9fa2"/>
<rect x="949.9" y="431.3" width="1.2" height="2.0" fill="#9d9fa2"/>
<rect x="954.9" y="426.70000000000005" width="1.2" height="2.0" fill="#9d9fa2"/>
<rect x="954.9" y="431.3" width="1.2" height="2.0" fill="#9d9fa2"/>
<rect x="959.1" y="426.70000000000005" width="1.2" height="2.0" fill="#9d9fa2"/>
<rect x="959.1" y="431.3" width="1.2" height="2.0" fill="#9d9fa2"/>
<rect x="969.2" y="424" width="21.4" height="13" rx="6.5" fill="#231f20"/>
<path d="M998.0,437 L1018.4000000000001,437 L1016.2,430 L1011.7,425.2 L1004.7,425.2 L1000.2,430 Z" fill="#231f20"/>
<rect x="1048.4" y="416.0" width="14" height="14.100000000000023" fill="#fff"/>
<path d="M1048.4,430.1 V416.0 H1062.4 V430.1" fill="none" stroke="#231f20" stroke-width="5.0"/>
<rect x="1048.8" y="413" width="13.8" height="8" fill="#231f20"/>
<circle cx="1051.3" cy="408.0" r="5.4" fill="#231f20"/>
<circle cx="1060" cy="410.0" r="5.4" fill="#231f20"/>
<circle cx="1053.5" cy="418.5" r="4.8" fill="#231f20"/>
<rect x="1073.4" y="423.9" width="21.3" height="13.3" fill="#231f20"/>
<rect x="1075.6" y="417.6" width="11.2" height="7.5" fill="#fff" stroke="#231f20" stroke-width="3"/>
<rect x="1104.8" y="394.0" width="14" height="36.10000000000002" fill="#fff"/>
<path d="M1104.8,430.1 V394.0 H1118.8 V430.1" fill="none" stroke="#231f20" stroke-width="5.0"/>
<rect x="1104.5" y="391.5" width="16" height="19.5" fill="#231f20"/>
<circle cx="1111.8" cy="390.5" r="6.6" fill="#231f20"/>
<line x1="1111.8" y1="376.5" x2="1111.8" y2="392" stroke="#231f20" stroke-width="2.2"/>
<circle cx="1111.8" cy="376.5" r="5.4" fill="#fff" stroke="#231f20" stroke-width="3.6"/>
<line x1="1108.2" y1="376.5" x2="1115.4" y2="376.5" stroke="#231f20" stroke-width="1.6"/>
<rect x="1109.3" y="378.5" width="1.3" height="1.8" fill="#231f20"/>
<rect x="1113.0" y="378.5" width="1.3" height="1.8" fill="#231f20"/>
<rect x="1108.5" y="389" width="2" height="2.5" fill="#fff"/>
<rect x="1114.5" y="389" width="2" height="2.5" fill="#fff"/>
<rect x="1108.3" y="397.5" width="1.6" height="1.4" fill="#fff"/>
<rect x="1115.4" y="397.5" width="1.6" height="1.4" fill="#fff"/>
<rect x="1109.5" y="402.5" width="2.3" height="2.0" fill="#fff"/>
<rect x="1113.7" y="402.5" width="2.3" height="2.0" fill="#fff"/>
<path d="M1108.5,405.5 Q1112.4,409 1116.3,405.5 L1116.3,406.5 Q1112.4,410.5 1108.5,406.5 Z" fill="#fff"/>
<rect x="1133.0" y="408.3" width="14" height="21.80000000000001" fill="#fff"/>
<path d="M1133.0,430.1 V408.3 H1147.0 V430.1" fill="none" stroke="#231f20" stroke-width="5.0"/>
<path d="M1135.8,400 L1130.5,409.5 L1131.5,419 L1137,421 L1141,419.5 L1142,414.5 L1147.5,413.5 L1150.5,412 L1147,404.5 L1143,403.8 Z" fill="#231f20"/>
<polygon points="1136.6,405.5 1134.3,409.3 1138.9,409.3" fill="#fff"/>
<rect x="1137.4" y="415.3" width="2" height="2.2" fill="#fff"/>
<rect x="1143.8" y="408.8" width="1.6" height="1.6" fill="#fff"/>
<rect x="1180.1000000000001" y="345.3" width="14" height="84.80000000000001" fill="#fff"/>
<path d="M1180.1000000000001,430.1 V345.3 H1194.1000000000001 V430.1" fill="none" stroke="#231f20" stroke-width="5.0"/>
<line x1="1182.9" y1="329.7" x2="1192.6" y2="329.7" stroke="#231f20" stroke-width="2"/>
<circle cx="1182.9" cy="332.2" r="4.8" fill="#231f20"/>
<circle cx="1191.9" cy="338.4" r="4.8" fill="#231f20"/>
<circle cx="1187.2" cy="357.2" r="4.6" fill="#231f20"/>
<rect x="1184.5" y="347" width="4" height="7" fill="#fff"/>
<rect x="1189.5" y="347" width="4" height="7" fill="#fff"/>
<rect x="1210.6499999999999" y="389.75" width="10.3" height="10.3" fill="#fff" stroke="#231f20" stroke-width="2.8"/>
<path d="M1210,408 H1221 V416 H1226.7 V437 H1204.9 V419 Q1205,416 1210,415 Z" fill="#231f20"/>
<rect x="1212.5" y="418.5" width="3" height="3.5" fill="#ccc"/>
<rect x="1236.9" y="368.5" width="14" height="61.60000000000002" fill="#fff"/>
<path d="M1236.9,430.1 V368.5 H1250.9 V430.1" fill="none" stroke="#231f20" stroke-width="5.0"/>
<rect x="1232.5" y="353.6" width="22.4" height="13.1" rx="6.5" fill="#231f20"/>
<rect x="1265.2" y="362.6" width="14" height="67.5" fill="#fff"/>
<path d="M1265.2,430.1 V362.6 H1279.2 V430.1" fill="none" stroke="#231f20" stroke-width="5.0"/>
<line x1="1271.9" y1="319.5" x2="1271.9" y2="362" stroke="#231f20" stroke-width="2.2"/>
<polygon points="1271.9,313.3 1266.2,324.7 1277.7,324.7" fill="#fff" stroke="#231f20" stroke-width="2.8"/>
<polygon points="1267.9,382.6 1264.2,390.4 1271.7,390.4" fill="#231f20" stroke="#231f20" stroke-width="2.8"/>
<polygon points="1275.9,378.6 1272.2,386.4 1279.7,386.4" fill="#231f20" stroke="#231f20" stroke-width="2.8"/>
<line x1="1267.9" y1="384" x2="1271.9" y2="374" stroke="#231f20" stroke-width="1.5"/>
<line x1="1271.9" y1="374" x2="1275.9" y2="381" stroke="#231f20" stroke-width="1.5"/>
<rect x="1311.6999999999998" y="215.0" width="14" height="215.10000000000002" fill="#fff"/>
<path d="M1311.6999999999998,430.1 V215.0 H1325.6999999999998 V430.1" fill="none" stroke="#231f20" stroke-width="5.0"/>
<line x1="1318.6999999999998" y1="187.3" x2="1318.6999999999998" y2="214" stroke="#231f20" stroke-width="2.2"/>
<circle cx="1318.6999999999998" cy="187.3" r="5.5" fill="#231f20"/>
<rect x="1312" y="214" width="13.5" height="17" fill="#231f20"/>
<path d="M1314.5,221.5 L1318.7,226 L1314.5,230.5 Z" fill="#fff"/>
<path d="M1323,221.5 L1318.7,226 L1323,230.5 Z" fill="#fff"/>
<circle cx="1318.6999999999998" cy="232.3" r="4.9" fill="#231f20"/>
<rect x="1340.3999999999999" y="404.5" width="14" height="25.600000000000023" fill="#fff"/>
<path d="M1340.3999999999999,430.1 V404.5 H1354.3999999999999 V430.1" fill="none" stroke="#231f20" stroke-width="5.0"/>
<rect x="1338.5" y="401.6" width="18.2" height="28.5" fill="#231f20"/>
<rect x="1340" y="428" width="14.1" height="8.7" fill="#231f20"/>
<line x1="1346.8999999999999" y1="360.2" x2="1346.8999999999999" y2="403" stroke="#231f20" stroke-width="2.2"/>
<rect x="1341.3" y="354.59999999999997" width="11.2" height="11.2" fill="#fff" stroke="#231f20" stroke-width="2.8"/>
<text x="1346.8999999999999" y="347.2" font-size="31" font-weight="bold" text-anchor="middle" fill="#231f20">*</text>
<rect x="1343.5" y="410" width="2.6" height="6" fill="#fff"/>
<rect x="1348.3" y="410" width="2.6" height="6" fill="#fff"/>
<rect x="1342.8" y="420" width="3" height="2.2" fill="#fff"/>
<rect x="1348.3" y="420" width="3" height="2.2" fill="#fff"/>
<rect x="1343.5" y="426" width="2.4" height="1.6" fill="#fff"/>
<rect x="1348.3" y="426" width="2.4" height="1.6" fill="#fff"/>
<rect x="1343.8" y="432" width="6.5" height="1.6" fill="#fff"/>
<rect x="1343.5" y="406" width="2.4" height="0.8" fill="#fff"/>
<rect x="1348.3" y="406" width="2.4" height="0.8" fill="#fff"/>
<rect x="1368.3999999999999" y="204.9" width="14" height="225.20000000000002" fill="#fff"/>
<path d="M1368.3999999999999,430.1 V204.9 H1382.3999999999999 V430.1" fill="none" stroke="#231f20" stroke-width="5.0"/>
<rect x="1368.3" y="204" width="14.2" height="42" fill="#231f20"/>
<rect x="1370.6" y="206" width="1.7" height="37" fill="#fff"/>
<rect x="1377.4" y="206" width="1.7" height="37" fill="#fff"/>
<line x1="1375.3999999999999" y1="157.4" x2="1375.3999999999999" y2="203" stroke="#231f20" stroke-width="2.2"/>
<circle cx="1375.3999999999999" cy="157.4" r="5.3" fill="#fff" stroke="#231f20" stroke-width="3.6"/>
<line x1="1371.8999999999999" y1="156.6" x2="1378.8999999999999" y2="156.6" stroke="#231f20" stroke-width="1.6"/>
<rect x="1374.6999999999998" y="156.6" width="1.4" height="3.5" fill="#231f20"/>
<circle cx="1375.3999999999999" cy="200.4" r="5.4" fill="#fff" stroke="#231f20" stroke-width="3.4"/>
<line x1="1375.3999999999999" y1="195" x2="1375.3999999999999" y2="206" stroke="#231f20" stroke-width="1.6"/>
<line x1="1370.1" y1="200.4" x2="1380.6999999999998" y2="200.4" stroke="#231f20" stroke-width="1.4"/>
<circle cx="1375.3999999999999" cy="247.3" r="5.4" fill="#fff" stroke="#231f20" stroke-width="3.4"/>
<path d="M1371.6,248.5 Q1375.3999999999999,252.5 1379.1999999999998,248.5 L1379.1999999999998,252 L1371.6,252 Z" fill="#231f20"/>
<line x1="1372.1" y1="245.3" x2="1378.6999999999998" y2="245.3" stroke="#231f20" stroke-width="1.2"/>
<rect x="1396.6999999999998" y="207.3" width="14" height="222.8" fill="#fff"/>
<path d="M1396.6999999999998,430.1 V207.3 H1410.6999999999998 V430.1" fill="none" stroke="#231f20" stroke-width="5.0"/>
<rect x="1396.8" y="206" width="13.8" height="4.5" fill="#231f20"/>
<rect x="1396.8" y="210" width="13.8" height="40" fill="#231f20"/>
<rect x="1399.3" y="211.5" width="1.7" height="36" fill="#fff"/>
<rect x="1406.2" y="211.5" width="1.7" height="36" fill="#fff"/>
<line x1="1403.6999999999998" y1="152.5" x2="1403.6999999999998" y2="206" stroke="#231f20" stroke-width="2.2"/>
<polygon points="1403.6999999999998,146.8 1397.3999999999999,157.8 1410.0,157.8" fill="#fff" stroke="#231f20" stroke-width="3.4" stroke-linejoin="round"/>
<line x1="1403.6999999999998" y1="150" x2="1403.6999999999998" y2="157" stroke="#231f20" stroke-width="1.4"/>
<polygon points="1403.6999999999998,247 1397.8999999999999,258.5 1409.5,258.5" fill="#231f20" stroke="#231f20" stroke-width="1.5" stroke-linejoin="round"/>
<line x1="1400.6" y1="255.5" x2="1406.8" y2="255.5" stroke="#fff" stroke-width="0.8"/>
<text x="789" y="592.5" font-size="40" font-weight="bold" fill="#231f20">g</text>
<line x1="905.3" y1="592.7" x2="905.3" y2="952.4" stroke="#231f20" stroke-width="4"/>
<line x1="890.7" y1="936.2" x2="905.3" y2="936.2" stroke="#231f20" stroke-width="4"/>
<text x="878.7" y="945.4000000000001" font-size="25.5" font-weight="bold" text-anchor="end" fill="#231f20">0</text>
<line x1="890.7" y1="780.0" x2="905.3" y2="780.0" stroke="#231f20" stroke-width="4"/>
<text x="878.7" y="789.2" font-size="25.5" font-weight="bold" text-anchor="end" fill="#231f20">50</text>
<line x1="890.7" y1="623.8" x2="905.3" y2="623.8" stroke="#231f20" stroke-width="4"/>
<text x="878.7" y="633.0" font-size="25.5" font-weight="bold" text-anchor="end" fill="#231f20">100</text>
<line x1="890" y1="936.2" x2="1417" y2="936.2" stroke="#231f20" stroke-width="4"/>
<line x1="905.3" y1="936.2" x2="905.3" y2="952.4" stroke="#231f20" stroke-width="3.4"/>
<line x1="921.05" y1="936.2" x2="921.05" y2="945.3" stroke="#231f20" stroke-width="3.4"/>
<line x1="936.8" y1="936.2" x2="936.8" y2="945.3" stroke="#231f20" stroke-width="3.4"/>
<line x1="952.55" y1="936.2" x2="952.55" y2="945.3" stroke="#231f20" stroke-width="3.4"/>
<line x1="968.3" y1="936.2" x2="968.3" y2="945.3" stroke="#231f20" stroke-width="3.4"/>
<line x1="984.05" y1="936.2" x2="984.05" y2="945.3" stroke="#231f20" stroke-width="3.4"/>
<line x1="999.8" y1="936.2" x2="999.8" y2="945.3" stroke="#231f20" stroke-width="3.4"/>
<line x1="1015.55" y1="936.2" x2="1015.55" y2="945.3" stroke="#231f20" stroke-width="3.4"/>
<line x1="1031.3" y1="936.2" x2="1031.3" y2="945.3" stroke="#231f20" stroke-width="3.4"/>
<line x1="1047.05" y1="936.2" x2="1047.05" y2="945.3" stroke="#231f20" stroke-width="3.4"/>
<line x1="1062.8" y1="936.2" x2="1062.8" y2="952.4" stroke="#231f20" stroke-width="3.4"/>
<line x1="1078.55" y1="936.2" x2="1078.55" y2="945.3" stroke="#231f20" stroke-width="3.4"/>
<line x1="1094.3" y1="936.2" x2="1094.3" y2="945.3" stroke="#231f20" stroke-width="3.4"/>
<line x1="1110.05" y1="936.2" x2="1110.05" y2="945.3" stroke="#231f20" stroke-width="3.4"/>
<line x1="1125.8" y1="936.2" x2="1125.8" y2="945.3" stroke="#231f20" stroke-width="3.4"/>
<line x1="1141.55" y1="936.2" x2="1141.55" y2="945.3" stroke="#231f20" stroke-width="3.4"/>
<line x1="1157.3" y1="936.2" x2="1157.3" y2="945.3" stroke="#231f20" stroke-width="3.4"/>
<line x1="1173.05" y1="936.2" x2="1173.05" y2="945.3" stroke="#231f20" stroke-width="3.4"/>
<line x1="1188.8" y1="936.2" x2="1188.8" y2="945.3" stroke="#231f20" stroke-width="3.4"/>
<line x1="1204.55" y1="936.2" x2="1204.55" y2="945.3" stroke="#231f20" stroke-width="3.4"/>
<line x1="1220.3" y1="936.2" x2="1220.3" y2="952.4" stroke="#231f20" stroke-width="3.4"/>
<line x1="1236.05" y1="936.2" x2="1236.05" y2="945.3" stroke="#231f20" stroke-width="3.4"/>
<line x1="1251.8" y1="936.2" x2="1251.8" y2="945.3" stroke="#231f20" stroke-width="3.4"/>
<line x1="1267.55" y1="936.2" x2="1267.55" y2="945.3" stroke="#231f20" stroke-width="3.4"/>
<line x1="1283.3" y1="936.2" x2="1283.3" y2="945.3" stroke="#231f20" stroke-width="3.4"/>
<line x1="1299.05" y1="936.2" x2="1299.05" y2="945.3" stroke="#231f20" stroke-width="3.4"/>
<line x1="1314.8" y1="936.2" x2="1314.8" y2="945.3" stroke="#231f20" stroke-width="3.4"/>
<line x1="1330.55" y1="936.2" x2="1330.55" y2="945.3" stroke="#231f20" stroke-width="3.4"/>
<line x1="1346.3" y1="936.2" x2="1346.3" y2="945.3" stroke="#231f20" stroke-width="3.4"/>
<line x1="1362.05" y1="936.2" x2="1362.05" y2="945.3" stroke="#231f20" stroke-width="3.4"/>
<line x1="1377.8" y1="936.2" x2="1377.8" y2="952.4" stroke="#231f20" stroke-width="3.4"/>
<line x1="1393.55" y1="936.2" x2="1393.55" y2="945.3" stroke="#231f20" stroke-width="3.4"/>
<line x1="1409.3" y1="936.2" x2="1409.3" y2="945.3" stroke="#231f20" stroke-width="3.4"/>
<text x="905.3" y="984.4" font-size="25.5" font-weight="bold" text-anchor="middle" fill="#231f20">0</text>
<text x="1062.8" y="984.4" font-size="25.5" font-weight="bold" text-anchor="middle" fill="#231f20">20</text>
<text x="1220.3" y="984.4" font-size="25.5" font-weight="bold" text-anchor="middle" fill="#231f20">40</text>
<text x="1377.8" y="984.4" font-size="25.5" font-weight="bold" text-anchor="middle" fill="#231f20">60</text>
<text x="1182.8" y="1030.5" font-size="29.2" font-weight="bold" text-anchor="middle" fill="#231f20">Days post challenge</text>
<text transform="translate(810,780.6) rotate(-90) scale(0.962,1)" font-size="30.2" font-weight="bold" text-anchor="middle" fill="#231f20">Tumor free survival (%)</text>
<line x1="905.3" y1="623.8" x2="1126.8" y2="623.8" stroke="#231f20" stroke-width="2.4"/>
<line x1="1015.55" y1="623.8" x2="1015.55" y2="824.6708" stroke="#231f20" stroke-width="1.9" stroke-dasharray="6.5,3.5"/>
<line x1="1023.05" y1="832.1708" x2="1062.675" y2="832.1708" stroke="#231f20" stroke-width="1.9" stroke-dasharray="5,2.8"/>
<line x1="1070.675" y1="623.8" x2="1070.675" y2="936.2" stroke="#333335" stroke-width="2.1"/>
<path d="M1078.675,832.1708 H1125.8 V928.2" fill="none" stroke="#808285" stroke-width="1.9"/>
<line x1="1125.8" y1="623.8" x2="1125.8" y2="720.3292" stroke="#231f20" stroke-width="2.1"/>
<line x1="1133.3" y1="727.8292" x2="1370.3" y2="727.8292" stroke="#231f20" stroke-width="2.0"/>
<rect x="1119.3" y="721.3292" width="13" height="13" fill="#fff" stroke="#231f20" stroke-width="3.4"/>
<rect x="1371.3" y="721.3292" width="13" height="13" fill="#fff" stroke="#231f20" stroke-width="3.4"/>
<circle cx="1015.55" cy="832.1708" r="6.6" fill="#fff" stroke="#231f20" stroke-width="2.8"/>
<path d="M1015.55,826.1708 V832.1708 H1020.55" fill="none" stroke="#231f20" stroke-width="1.4"/>
<polygon points="1070.7,824.7 1063.5,839.6 1077.9,839.6" fill="#fff" stroke="#231f20" stroke-width="3"/>
<line x1="1070.675" y1="826.1708" x2="1070.675" y2="839.1708" stroke="#231f20" stroke-width="1.6"/>
<polygon points="1125.8,927.6 1118.6,942.5 1133.0,942.5" fill="#fff" stroke="#231f20" stroke-width="3"/>
<line x1="1125.8" y1="929.2" x2="1125.8" y2="942.2" stroke="#231f20" stroke-width="1.4"/>
<circle cx="1070.675" cy="936.2" r="8.7" fill="#231f20"/>
<text x="1135" y="718.7" font-size="29.7" stroke="#231f20" stroke-width="0.6" fill="#231f20">Mitox (positive)</text>
<text x="928.5" y="841.2" font-size="30" stroke="#231f20" stroke-width="0.6" fill="#231f20">Cis</text>
<text x="926.5" y="874.8" font-size="30" stroke="#231f20" stroke-width="0.6" fill="#231f20">(negative)</text>
<text x="950" y="924.8" font-size="30" stroke="#231f20" stroke-width="0.6" fill="#231f20">Control</text>
<text x="1134" y="922.7" font-size="30" stroke="#231f20" stroke-width="0.6" fill="#231f20">gemCTx</text>
<line x1="1400.5" y1="726" x2="1400.5" y2="925" stroke="#231f20" stroke-width="5.4"/>
<line x1="1391.5" y1="726.8" x2="1409.7" y2="726.8" stroke="#231f20" stroke-width="5.6" stroke-linecap="round"/>
<line x1="1391.5" y1="924.8" x2="1409.7" y2="924.8" stroke="#231f20" stroke-width="5.6" stroke-linecap="round"/>
<text x="1428.5" y="833" font-size="26" stroke="#231f20" stroke-width="0.6" fill="#231f20">*</text>
</svg>
</body></html>
